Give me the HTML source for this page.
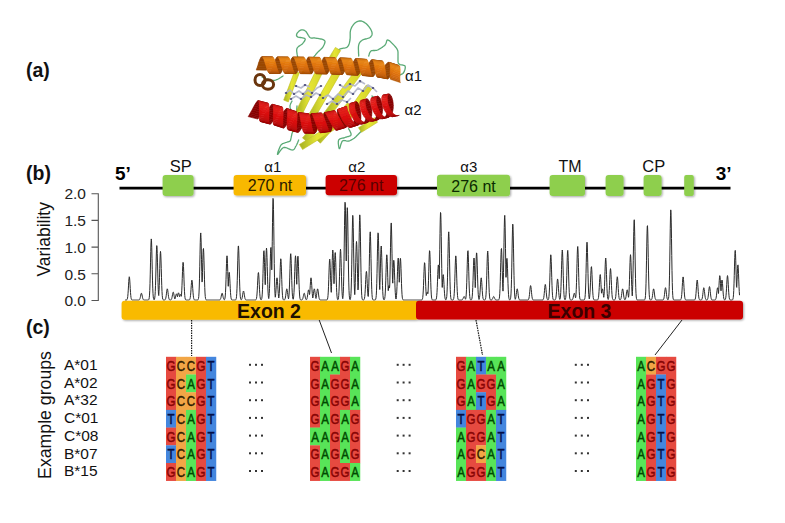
<!DOCTYPE html>
<html><head><meta charset="utf-8">
<style>
html,body{margin:0;padding:0;background:#fff;width:785px;height:523px;overflow:hidden}
svg{display:block}
text{font-family:"Liberation Sans",sans-serif}
.lab{font-weight:bold;font-size:19.5px;fill:#111}
.nt{font-size:13.4px;text-anchor:middle}
.tick{font-size:15.5px;fill:#222;text-anchor:end}
.gl{font-size:15.5px;fill:#111}
</style></head>
<body>
<svg width="785" height="523" viewBox="0 0 785 523">
<defs>
<filter id="sh" x="-20%" y="-30%" width="140%" height="170%">
<feGaussianBlur in="SourceAlpha" stdDeviation="1.2"/>
<feOffset dx="0.5" dy="1.2" result="b"/>
<feComponentTransfer><feFuncA type="linear" slope="0.35"/></feComponentTransfer>
<feMerge><feMergeNode/><feMergeNode in="SourceGraphic"/></feMerge>
</filter>
</defs>
<rect width="785" height="523" fill="#fff"/>

<!-- labels -->
<text class="lab" x="26" y="77">(a)</text>
<text class="lab" x="26" y="180">(b)</text>
<text class="lab" x="26" y="334">(c)</text>

<!-- protein -->
<defs><filter id="pb" x="-5%" y="-5%" width="110%" height="110%"><feGaussianBlur stdDeviation="0.45"/></filter></defs><g id="protein" filter="url(#pb)">
<path d="M298.0,59.0 L297.9,58.2 L297.6,57.0 L297.4,55.7 L297.1,54.2 L296.9,52.6 L296.7,51.1 L296.7,49.8 L296.9,48.7 L297.3,47.8 L297.9,47.1 L298.6,46.4 L299.5,45.9 L300.3,45.3 L301.2,44.8 L301.9,44.3 L302.5,43.7 L303.0,43.1 L303.6,42.4 L304.1,41.7 L304.6,41.0 L304.9,40.3 L305.2,39.7 L305.2,39.2 L305.0,38.7 L304.5,38.3 L303.7,38.1 L302.6,37.9 L301.4,37.7 L300.2,37.5 L299.1,37.4 L298.2,37.2 L297.5,36.9 L297.1,36.6 L296.8,36.2 L296.6,35.8 L296.5,35.4 L296.5,35.0 L296.6,34.6 L296.7,34.1 L296.9,33.7 L297.2,33.2 L297.6,32.7 L298.1,32.1 L298.6,31.6 L299.2,31.1 L299.8,30.6 L300.4,30.2 L301.0,30.0 L301.6,29.9 L302.1,29.8 L302.7,29.9 L303.3,30.0 L303.9,30.2 L304.5,30.4 L305.0,30.8 L305.6,31.2 L306.2,31.8 L306.7,32.6 L307.2,33.4 L307.8,34.4 L308.3,35.3 L308.9,36.2 L309.4,37.0 L310.0,37.5 L310.6,37.8 L311.1,38.0 L311.7,38.1 L312.3,38.1 L312.9,38.0 L313.6,37.9 L314.3,37.9 L315.0,38.0 L315.9,38.1 L316.8,38.3 L317.8,38.4 L318.9,38.6 L319.9,38.8 L320.9,39.0 L321.8,39.2 L322.5,39.4 L323.1,39.6 L323.6,39.9 L324.0,40.1 L324.4,40.4 L324.6,40.7 L324.8,41.0 L325.0,41.4 L325.0,41.9 L324.9,42.5 L324.8,43.1 L324.5,43.8 L324.2,44.5 L323.8,45.3 L323.4,46.1 L323.0,46.8 L322.5,47.5 L322.0,48.2 L321.4,48.8 L320.8,49.4 L320.1,50.1 L319.4,50.7 L318.7,51.3 L318.1,51.9 L317.5,52.5 L316.9,53.1 L316.4,53.8 L315.8,54.4 L315.3,55.1 L314.8,55.7 L314.4,56.2 L314.0,56.7 L313.7,57.0" fill="none" stroke="#5aaa76" stroke-width="1.3" stroke-linecap="round" stroke-linejoin="round"/>
<path d="M337.0,50.5 L337.3,50.4 L337.7,50.2 L338.1,50.0 L338.6,49.7 L339.1,49.5 L339.7,49.2 L340.4,48.9 L341.0,48.7 L341.7,48.5 L342.5,48.3 L343.4,48.2 L344.3,48.1 L345.2,47.9 L346.1,47.6 L346.9,47.3 L347.5,46.8 L348.0,46.2 L348.5,45.5 L348.8,44.7 L349.1,43.9 L349.4,43.0 L349.6,42.0 L349.8,41.0 L350.0,40.0 L350.1,38.9 L350.2,37.7 L350.2,36.4 L350.2,35.0 L350.2,33.7 L350.2,32.4 L350.4,31.1 L350.6,30.0 L351.0,28.9 L351.4,27.9 L351.9,26.9 L352.5,26.0 L353.1,25.1 L353.7,24.3 L354.3,23.6 L355.0,23.0 L355.7,22.5 L356.4,22.0 L357.1,21.6 L357.9,21.3 L358.6,21.1 L359.4,21.0 L360.2,20.9 L361.0,21.0 L361.8,21.2 L362.6,21.5 L363.5,21.9 L364.3,22.4 L365.2,23.0 L366.0,23.6 L366.8,24.3 L367.5,25.0 L368.2,25.8 L368.9,26.7 L369.6,27.7 L370.3,28.7 L370.9,29.7 L371.4,30.7 L371.8,31.7 L372.0,32.5 L372.1,33.3 L372.1,34.0 L372.0,34.7 L371.8,35.3 L371.4,35.9 L371.0,36.5 L370.6,37.0 L370.0,37.5 L369.3,37.9 L368.4,38.2 L367.4,38.5 L366.4,38.8 L365.3,39.0 L364.2,39.3 L363.3,39.6 L362.5,40.0 L361.8,40.5 L361.2,40.9 L360.6,41.4 L360.1,42.0 L359.7,42.6 L359.3,43.3 L359.0,44.1 L358.7,45.0 L358.5,46.2 L358.4,47.6 L358.4,49.2 L358.5,50.8 L358.5,52.4 L358.6,53.9 L358.7,55.1 L358.7,56.0" fill="none" stroke="#5aaa76" stroke-width="1.3" stroke-linecap="round" stroke-linejoin="round"/>
<path d="M368.7,56.0 L368.8,55.6 L369.0,55.0 L369.2,54.3 L369.4,53.6 L369.7,52.8 L370.1,52.1 L370.5,51.5 L371.0,51.0 L371.6,50.7 L372.3,50.6 L373.1,50.5 L373.9,50.5 L374.8,50.5 L375.7,50.4 L376.6,50.3 L377.5,50.0 L378.4,49.6 L379.4,49.0 L380.5,48.4 L381.5,47.8 L382.5,47.1 L383.5,46.3 L384.3,45.7 L385.0,45.0 L385.5,44.3 L385.9,43.5 L386.2,42.7 L386.4,42.0 L386.6,41.2 L386.8,40.6 L387.1,40.2 L387.5,40.0 L388.0,40.0 L388.6,40.3 L389.2,40.6 L389.8,41.1 L390.5,41.7 L391.2,42.4 L391.9,43.1 L392.5,43.7 L393.2,44.4 L393.9,45.1 L394.6,45.9 L395.3,46.7 L396.0,47.5 L396.6,48.4 L397.1,49.2 L397.5,50.0 L397.8,50.8 L397.9,51.5 L398.0,52.2 L398.0,52.9 L398.0,53.6 L398.0,54.4 L398.0,55.2 L398.0,56.0 L398.0,56.9 L398.0,57.9 L398.0,59.0 L398.0,60.1 L398.0,61.1 L398.1,62.1 L398.3,63.0 L398.7,63.7 L399.3,64.2 L400.1,64.6 L401.0,64.8 L402.0,64.9 L402.9,65.1 L403.8,65.3 L404.5,65.5 L405.0,66.0 L405.2,66.6 L405.3,67.4 L405.2,68.3 L405.0,69.2 L404.7,70.2 L404.4,71.1 L404.0,71.9 L403.7,72.5 L403.3,73.0 L402.9,73.5 L402.3,73.8 L401.8,74.2 L401.2,74.4 L400.7,74.6 L400.3,74.8 L400.0,75.0" fill="none" stroke="#5aaa76" stroke-width="1.3" stroke-linecap="round" stroke-linejoin="round"/>
<path d="M295.0,127.5 L294.8,127.8 L294.5,128.3 L294.2,128.8 L293.8,129.4 L293.5,130.0 L293.1,130.7 L292.8,131.3 L292.5,132.0 L292.3,132.7 L292.0,133.5 L291.8,134.3 L291.7,135.1 L291.5,135.9 L291.3,136.7 L291.2,137.4 L291.0,138.0 L290.9,138.5 L290.8,139.0 L290.7,139.4 L290.7,139.8 L290.6,140.1 L290.4,140.4 L290.3,140.7 L290.0,141.0 L289.7,141.3 L289.2,141.5 L288.8,141.6 L288.2,141.8 L287.7,141.9 L287.1,142.1 L286.6,142.3 L286.0,142.5 L285.4,142.7 L284.8,142.9 L284.1,143.1 L283.5,143.3 L282.8,143.5 L282.2,143.9 L281.6,144.4 L281.0,145.0 L280.4,146.0 L279.8,147.2 L279.2,148.7 L278.6,150.3 L278.0,151.8 L277.7,153.0 L277.5,154.0 L277.5,154.4 L277.8,154.3 L278.3,153.6 L279.0,152.6 L279.8,151.4 L280.8,150.1 L281.7,148.9 L282.7,148.0 L283.7,147.5 L284.7,147.4 L285.8,147.6 L287.0,148.0 L288.3,148.6 L289.5,149.1 L290.6,149.6 L291.6,149.9 L292.5,150.0 L293.2,149.8 L293.8,149.5 L294.2,149.1 L294.6,148.5 L295.0,147.9 L295.3,147.3 L295.6,146.6 L296.0,146.0 L296.4,145.3 L296.8,144.5 L297.2,143.6 L297.6,142.8 L297.9,141.9 L298.2,141.1 L298.5,140.5 L298.7,140.0" fill="none" stroke="#5aaa76" stroke-width="1.3" stroke-linecap="round" stroke-linejoin="round"/>
<path d="M367.5,126.9 L367.1,127.1 L366.7,127.4 L366.1,127.6 L365.5,128.0 L364.8,128.4 L364.0,128.8 L363.3,129.4 L362.5,130.0 L361.7,130.8 L360.8,131.7 L359.8,132.7 L358.8,133.7 L357.8,134.8 L356.8,135.8 L355.9,136.7 L355.0,137.5 L354.2,138.2 L353.3,138.7 L352.5,139.3 L351.8,139.7 L351.0,140.1 L350.2,140.5 L349.5,140.8 L348.7,141.0 L347.9,141.1 L347.1,141.1 L346.2,140.9 L345.4,140.7 L344.6,140.6 L343.8,140.5 L343.1,140.7 L342.5,141.0 L341.9,141.7 L341.5,142.8 L341.0,144.0 L340.6,145.4 L340.3,146.7 L339.9,147.7 L339.7,148.5 L339.4,148.7 L339.1,148.4 L338.9,147.5 L338.7,146.4 L338.5,145.0 L338.3,143.5 L338.3,142.1 L338.4,140.9 L338.7,140.0 L339.2,139.4 L339.8,138.9 L340.6,138.6 L341.4,138.4 L342.4,138.2 L343.3,138.0 L344.2,137.8 L345.0,137.5 L345.8,137.2 L346.7,137.0 L347.6,136.7 L348.5,136.5 L349.4,136.2 L350.1,135.9 L350.6,135.5 L351.0,135.0 L351.1,134.4 L351.0,133.5 L350.6,132.6 L350.2,131.7 L349.8,130.8 L349.3,129.9 L348.9,129.2 L348.7,128.7" fill="none" stroke="#5aaa76" stroke-width="1.3" stroke-linecap="round" stroke-linejoin="round"/>
<path d="M262.0,77.0 L262.5,77.2 L263.1,77.5 L263.9,77.8 L264.7,78.1 L265.6,78.5 L266.6,78.9 L267.5,79.2 L268.4,79.5 L269.2,79.8 L270.0,80.0 L270.7,80.1 L271.3,80.3 L271.9,80.3 L272.5,80.4 L273.1,80.4 L273.6,80.4 L274.2,80.4 L274.8,80.3 L275.4,80.2 L276.0,80.0 L276.7,79.7 L277.4,79.4 L278.2,79.0 L279.1,78.5 L279.9,78.0 L280.7,77.5 L281.4,77.0 L282.0,76.6 L282.6,76.3 L283.0,76.0" fill="none" stroke="#5aaa76" stroke-width="1.3" stroke-linecap="round" stroke-linejoin="round"/>
<path d="M292.0,101.0 L291.9,101.3 L291.7,101.7 L291.4,102.1 L291.2,102.6 L290.9,103.1 L290.6,103.7 L290.4,104.3 L290.2,104.9 L290.0,105.4 L290.0,106.0 L290.0,106.6 L290.1,107.2 L290.2,107.9 L290.4,108.6 L290.6,109.3 L290.9,110.0 L291.1,110.6 L291.4,111.2 L291.7,111.6 L292.0,112.0 L292.3,112.3 L292.7,112.5 L293.1,112.6 L293.6,112.7 L294.1,112.8 L294.5,112.7 L295.0,112.6 L295.4,112.5 L295.7,112.3 L296.0,112.0 L296.2,111.6 L296.4,111.1 L296.6,110.5 L296.7,109.7 L296.8,109.0 L296.8,108.3 L296.9,107.5 L296.9,106.9 L297.0,106.4 L297.0,106.0" fill="none" stroke="#5aaa76" stroke-width="1.3" stroke-linecap="round" stroke-linejoin="round"/>
<path d="M372.0,96.0 L372.2,96.2 L372.5,96.4 L372.8,96.7 L373.2,97.0 L373.6,97.3 L374.1,97.6 L374.5,98.0 L374.9,98.4 L375.3,98.8 L375.6,99.2 L375.8,99.6 L376.0,100.0 L376.1,100.4 L376.1,101.0 L376.1,101.5 L376.0,102.1 L375.9,102.7 L375.8,103.2 L375.6,103.8 L375.4,104.4 L375.3,104.9 L375.2,105.3 L375.1,105.7 L375.0,106.0" fill="none" stroke="#5aaa76" stroke-width="1.3" stroke-linecap="round" stroke-linejoin="round"/>
<defs><linearGradient id="yg" x1="0" y1="0" x2="1" y2="0"><stop offset="0" stop-color="#a4b024"/><stop offset="0.5" stop-color="#e6e634"/><stop offset="1" stop-color="#d4d42a"/></linearGradient></defs>
<polygon points="340.6,50.6 335.4,47.4 327.4,60.4 332.6,63.6" fill="url(#yg)" stroke="#c0bc20" stroke-width="0.6"/>
<polygon points="299.3,72.9 294.7,71.1 283.7,100.1 288.3,101.9" fill="url(#yg)" stroke="#c0bc20" stroke-width="0.6"/>
<polygon points="322.1,73.5 315.9,70.5 295.9,111.5 302.1,114.5" fill="url(#yg)" stroke="#c0bc20" stroke-width="0.6"/>
<polygon points="342.0,70.7 336.0,67.3 306.0,119.3 312.0,122.7" fill="url(#yg)" stroke="#c0bc20" stroke-width="0.6"/>
<polygon points="362.8,72.1 357.2,67.9 323.2,113.9 328.8,118.1" fill="url(#yg)" stroke="#c0bc20" stroke-width="0.6"/>
<polygon points="371.7,88.9 366.3,85.1 340.3,122.1 345.7,125.9" fill="url(#yg)" stroke="#c0bc20" stroke-width="0.6"/>
<polygon points="303.3,112.0 298.7,110.0 289.7,130.0 294.3,132.0" fill="url(#yg)" stroke="#c0bc20" stroke-width="0.6"/>
<polygon points="327.5,118.1 322.5,113.9 302.5,137.9 307.5,142.1" fill="url(#yg)" stroke="#c0bc20" stroke-width="0.6"/>
<polygon points="352.4,107.2 347.6,102.8 315.6,138.8 320.4,143.2" fill="url(#yg)" stroke="#c0bc20" stroke-width="0.6"/>
<polygon points="334.6,129.5 331.4,124.5 299.4,144.5 302.6,149.5" fill="url(#yg)" stroke="#c0bc20" stroke-width="0.6"/>
<polygon points="377.5,122.3 374.5,117.7 358.5,127.7 361.5,132.3" fill="url(#yg)" stroke="#c0bc20" stroke-width="0.6"/>
<path d="M286,93 L290,90 L294,94 L299,91 L303,94 L308,90 L312,93 L317,88 L321,86" fill="none" stroke="#b0b4c8" stroke-width="1.7" stroke-linejoin="round" opacity="0.9"/>
<path d="M291,99 L296,96 L301,99 L306,95 L311,97 L316,93 L320,95" fill="none" stroke="#b0b4c8" stroke-width="1.7" stroke-linejoin="round" opacity="0.9"/>
<path d="M296,86 L301,88 L305,85 L310,87" fill="none" stroke="#b0b4c8" stroke-width="1.7" stroke-linejoin="round" opacity="0.9"/>
<path d="M323,98 L328,95 L333,99 L338,94 L343,97 L348,91 L353,94 L358,88 L363,91 L368,85 L373,88 L377,92" fill="none" stroke="#b0b4c8" stroke-width="1.7" stroke-linejoin="round" opacity="0.9"/>
<path d="M327,104 L332,101 L337,104 L342,100 L347,102 L351,98" fill="none" stroke="#b0b4c8" stroke-width="1.7" stroke-linejoin="round" opacity="0.9"/>
<path d="M340,85 L345,88 L350,84 L355,86 L360,81 L365,84" fill="none" stroke="#b0b4c8" stroke-width="1.7" stroke-linejoin="round" opacity="0.9"/>
<rect x="284.9" y="92.1" width="2.2" height="1.8" fill="#3c3e70" opacity="0.85"/>
<rect x="292.9" y="93.1" width="2.2" height="1.8" fill="#3c3e70" opacity="0.85"/>
<rect x="301.9" y="93.1" width="2.2" height="1.8" fill="#3c3e70" opacity="0.85"/>
<rect x="310.9" y="92.1" width="2.2" height="1.8" fill="#3c3e70" opacity="0.85"/>
<rect x="319.9" y="85.1" width="2.2" height="1.8" fill="#3c3e70" opacity="0.85"/>
<rect x="289.9" y="98.1" width="2.2" height="1.8" fill="#3c3e70" opacity="0.85"/>
<rect x="299.9" y="98.1" width="2.2" height="1.8" fill="#3c3e70" opacity="0.85"/>
<rect x="309.9" y="96.1" width="2.2" height="1.8" fill="#3c3e70" opacity="0.85"/>
<rect x="318.9" y="94.1" width="2.2" height="1.8" fill="#3c3e70" opacity="0.85"/>
<rect x="294.9" y="85.1" width="2.2" height="1.8" fill="#3c3e70" opacity="0.85"/>
<rect x="303.9" y="84.1" width="2.2" height="1.8" fill="#3c3e70" opacity="0.85"/>
<rect x="321.9" y="97.1" width="2.2" height="1.8" fill="#3c3e70" opacity="0.85"/>
<rect x="331.9" y="98.1" width="2.2" height="1.8" fill="#3c3e70" opacity="0.85"/>
<rect x="341.9" y="96.1" width="2.2" height="1.8" fill="#3c3e70" opacity="0.85"/>
<rect x="351.9" y="93.1" width="2.2" height="1.8" fill="#3c3e70" opacity="0.85"/>
<rect x="361.9" y="90.1" width="2.2" height="1.8" fill="#3c3e70" opacity="0.85"/>
<rect x="371.9" y="87.1" width="2.2" height="1.8" fill="#3c3e70" opacity="0.85"/>
<rect x="325.9" y="103.1" width="2.2" height="1.8" fill="#3c3e70" opacity="0.85"/>
<rect x="335.9" y="103.1" width="2.2" height="1.8" fill="#3c3e70" opacity="0.85"/>
<rect x="345.9" y="101.1" width="2.2" height="1.8" fill="#3c3e70" opacity="0.85"/>
<rect x="338.9" y="84.1" width="2.2" height="1.8" fill="#3c3e70" opacity="0.85"/>
<rect x="348.9" y="83.1" width="2.2" height="1.8" fill="#3c3e70" opacity="0.85"/>
<rect x="358.9" y="80.1" width="2.2" height="1.8" fill="#3c3e70" opacity="0.85"/>
<ellipse cx="260" cy="80" rx="5.0" ry="5.6" fill="none" stroke="#6a360c" stroke-width="3.0"/>
<ellipse cx="268" cy="84.5" rx="5.6" ry="4.8" fill="none" stroke="#6a360c" stroke-width="3.0"/>
<polygon points="257.4,66.8 267.8,66.9 268.4,65.1 258.0,64.9" fill="#994607" stroke="#994607" stroke-width="0.6"/>
<polygon points="273.0,66.9 283.4,67.0 284.0,65.2 273.6,65.1" fill="#994607" stroke="#994607" stroke-width="0.6"/>
<polygon points="288.6,67.1 299.0,67.2 299.6,65.4 289.2,65.3" fill="#994607" stroke="#994607" stroke-width="0.6"/>
<polygon points="304.2,67.2 314.6,67.3 315.2,65.5 304.8,65.4" fill="#994607" stroke="#994607" stroke-width="0.6"/>
<polygon points="319.8,67.4 330.2,67.6 330.8,65.8 320.4,65.6" fill="#994607" stroke="#994607" stroke-width="0.6"/>
<polygon points="335.3,67.8 345.7,68.2 346.4,66.4 336.0,66.0" fill="#994607" stroke="#994607" stroke-width="0.6"/>
<polygon points="350.9,68.4 361.3,69.0 361.9,67.2 351.6,66.6" fill="#994607" stroke="#994607" stroke-width="0.6"/>
<polygon points="366.4,69.4 376.7,70.4 377.5,68.6 367.1,67.6" fill="#994607" stroke="#994607" stroke-width="0.6"/>
<polygon points="381.7,71.0 391.8,73.5 392.7,71.9 382.7,69.3" fill="#994607" stroke="#994607" stroke-width="0.6"/>
<polygon points="382.7,69.3 392.7,71.9 393.7,70.3 383.7,67.6" fill="#994607" stroke="#994607" stroke-width="0.6"/>
<polygon points="367.1,67.6 377.5,68.6 378.2,66.9 367.9,65.8" fill="#994607" stroke="#994607" stroke-width="0.6"/>
<polygon points="351.6,66.6 361.9,67.2 362.6,65.5 352.2,64.8" fill="#994607" stroke="#994607" stroke-width="0.6"/>
<polygon points="336.0,66.0 346.4,66.4 347.0,64.6 336.6,64.2" fill="#994607" stroke="#994607" stroke-width="0.6"/>
<polygon points="320.4,65.6 330.8,65.8 331.4,64.0 321.0,63.7" fill="#994607" stroke="#994607" stroke-width="0.6"/>
<polygon points="304.8,65.4 315.2,65.5 315.7,63.7 305.3,63.6" fill="#994607" stroke="#994607" stroke-width="0.6"/>
<polygon points="258.0,64.9 268.4,65.1 268.9,63.2 258.5,63.1" fill="#994607" stroke="#994607" stroke-width="0.6"/>
<polygon points="289.2,65.3 299.6,65.4 300.1,63.5 289.7,63.5" fill="#994607" stroke="#994607" stroke-width="0.6"/>
<polygon points="273.6,65.1 284.0,65.2 284.5,63.4 274.1,63.3" fill="#994607" stroke="#994607" stroke-width="0.6"/>
<polygon points="256.8,68.5 267.2,68.6 267.8,66.9 257.4,66.8" fill="#994607" stroke="#994607" stroke-width="0.6"/>
<polygon points="272.4,68.6 282.8,68.8 283.4,67.0 273.0,66.9" fill="#994607" stroke="#994607" stroke-width="0.6"/>
<polygon points="288.0,68.8 298.4,68.9 299.0,67.2 288.6,67.1" fill="#994607" stroke="#994607" stroke-width="0.6"/>
<polygon points="303.6,69.0 314.0,69.0 314.6,67.3 304.2,67.2" fill="#994607" stroke="#994607" stroke-width="0.6"/>
<polygon points="319.2,69.1 329.6,69.3 330.2,67.6 319.8,67.4" fill="#994607" stroke="#994607" stroke-width="0.6"/>
<polygon points="334.7,69.5 345.1,69.9 345.7,68.2 335.3,67.8" fill="#994607" stroke="#994607" stroke-width="0.6"/>
<polygon points="350.2,70.1 360.6,70.7 361.3,69.0 350.9,68.4" fill="#994607" stroke="#994607" stroke-width="0.6"/>
<polygon points="365.7,71.1 376.0,72.1 376.7,70.4 366.4,69.4" fill="#994607" stroke="#994607" stroke-width="0.6"/>
<polygon points="380.7,72.6 390.9,75.0 391.8,73.5 381.7,71.0" fill="#994607" stroke="#994607" stroke-width="0.6"/>
<polygon points="383.7,67.6 393.7,70.3 394.7,68.9 384.7,66.1" fill="#994607" stroke="#994607" stroke-width="0.6"/>
<polygon points="367.9,65.8 378.2,66.9 379.0,65.3 368.6,64.1" fill="#994607" stroke="#994607" stroke-width="0.6"/>
<polygon points="352.2,64.8 362.6,65.5 363.3,63.8 352.9,63.1" fill="#994607" stroke="#994607" stroke-width="0.6"/>
<polygon points="336.6,64.2 347.0,64.6 347.6,62.9 337.2,62.4" fill="#994607" stroke="#994607" stroke-width="0.6"/>
<polygon points="321.0,63.7 331.4,64.0 332.0,62.3 321.6,62.0" fill="#994607" stroke="#994607" stroke-width="0.6"/>
<polygon points="305.3,63.6 315.7,63.7 316.3,61.9 305.9,61.9" fill="#994607" stroke="#994607" stroke-width="0.6"/>
<polygon points="258.5,63.1 268.9,63.2 269.5,61.5 259.1,61.4" fill="#994607" stroke="#994607" stroke-width="0.6"/>
<polygon points="289.7,63.5 300.1,63.5 300.7,61.8 290.3,61.7" fill="#994607" stroke="#994607" stroke-width="0.6"/>
<polygon points="274.1,63.3 284.5,63.4 285.1,61.7 274.7,61.6" fill="#994607" stroke="#994607" stroke-width="0.6"/>
<polygon points="256.2,70.0 266.6,70.2 267.2,68.6 256.8,68.5" fill="#974407" stroke="#974407" stroke-width="0.6"/>
<polygon points="271.8,70.2 282.2,70.3 282.8,68.8 272.4,68.6" fill="#974407" stroke="#974407" stroke-width="0.6"/>
<polygon points="287.5,70.4 297.8,70.5 298.4,68.9 288.0,68.8" fill="#974407" stroke="#974407" stroke-width="0.6"/>
<polygon points="303.1,70.5 313.5,70.6 314.0,69.0 303.6,69.0" fill="#974407" stroke="#974407" stroke-width="0.6"/>
<polygon points="318.6,70.6 329.0,70.9 329.6,69.3 319.2,69.1" fill="#974407" stroke="#974407" stroke-width="0.6"/>
<polygon points="334.1,71.0 344.5,71.4 345.1,69.9 334.7,69.5" fill="#974407" stroke="#974407" stroke-width="0.6"/>
<polygon points="349.6,71.7 360.0,72.2 360.6,70.7 350.2,70.1" fill="#974407" stroke="#974407" stroke-width="0.6"/>
<polygon points="365.0,72.6 375.3,73.5 376.0,72.1 365.7,71.1" fill="#974407" stroke="#974407" stroke-width="0.6"/>
<polygon points="379.9,74.1 390.0,76.3 390.9,75.0 380.7,72.6" fill="#974407" stroke="#974407" stroke-width="0.6"/>
<polygon points="384.7,66.1 394.7,68.9 395.7,67.6 385.7,64.7" fill="#974407" stroke="#974407" stroke-width="0.6"/>
<polygon points="368.6,64.1 379.0,65.3 379.7,63.8 369.4,62.6" fill="#974407" stroke="#974407" stroke-width="0.6"/>
<polygon points="352.9,63.1 363.3,63.8 363.9,62.3 353.5,61.6" fill="#974407" stroke="#974407" stroke-width="0.6"/>
<polygon points="337.2,62.4 347.6,62.9 348.2,61.4 337.8,60.9" fill="#974407" stroke="#974407" stroke-width="0.6"/>
<polygon points="321.6,62.0 332.0,62.3 332.6,60.7 322.2,60.5" fill="#974407" stroke="#974407" stroke-width="0.6"/>
<polygon points="305.9,61.9 316.3,61.9 316.9,60.4 306.5,60.3" fill="#974407" stroke="#974407" stroke-width="0.6"/>
<polygon points="259.1,61.4 269.5,61.5 270.1,60.0 259.7,59.9" fill="#974407" stroke="#974407" stroke-width="0.6"/>
<polygon points="290.3,61.7 300.7,61.8 301.3,60.3 290.9,60.2" fill="#974407" stroke="#974407" stroke-width="0.6"/>
<polygon points="274.7,61.6 285.1,61.7 285.7,60.1 275.3,60.0" fill="#974407" stroke="#974407" stroke-width="0.6"/>
<polygon points="271.3,71.5 281.7,71.6 282.2,70.3 271.8,70.2" fill="#944307" stroke="#944307" stroke-width="0.6"/>
<polygon points="286.9,71.7 297.3,71.8 297.8,70.5 287.5,70.4" fill="#944307" stroke="#944307" stroke-width="0.6"/>
<polygon points="302.5,71.8 312.9,71.9 313.5,70.6 303.1,70.5" fill="#944307" stroke="#944307" stroke-width="0.6"/>
<polygon points="318.0,71.9 328.4,72.1 329.0,70.9 318.6,70.6" fill="#944307" stroke="#944307" stroke-width="0.6"/>
<polygon points="333.5,72.3 343.9,72.7 344.5,71.4 334.1,71.0" fill="#944307" stroke="#944307" stroke-width="0.6"/>
<polygon points="349.0,72.9 359.4,73.5 360.0,72.2 349.6,71.7" fill="#944307" stroke="#944307" stroke-width="0.6"/>
<polygon points="364.3,73.8 374.7,74.8 375.3,73.5 365.0,72.6" fill="#944307" stroke="#944307" stroke-width="0.6"/>
<polygon points="379.1,75.3 389.3,77.4 390.0,76.3 379.9,74.1" fill="#944307" stroke="#944307" stroke-width="0.6"/>
<polygon points="385.7,64.7 395.7,67.6 396.7,66.6 386.7,63.6" fill="#944306" stroke="#944306" stroke-width="0.6"/>
<polygon points="369.4,62.6 379.7,63.8 380.4,62.6 370.1,61.4" fill="#944306" stroke="#944306" stroke-width="0.6"/>
<polygon points="353.5,61.6 363.9,62.3 364.6,61.0 354.2,60.4" fill="#944306" stroke="#944306" stroke-width="0.6"/>
<polygon points="337.8,60.9 348.2,61.4 348.9,60.1 338.5,59.6" fill="#944306" stroke="#944306" stroke-width="0.6"/>
<polygon points="322.2,60.5 332.6,60.7 333.2,59.5 322.8,59.2" fill="#944306" stroke="#944306" stroke-width="0.6"/>
<polygon points="306.5,60.3 316.9,60.4 317.5,59.1 307.1,59.0" fill="#944306" stroke="#944306" stroke-width="0.6"/>
<polygon points="259.7,59.9 270.1,60.0 270.7,58.7 260.3,58.6" fill="#944306" stroke="#944306" stroke-width="0.6"/>
<polygon points="290.9,60.2 301.3,60.3 301.8,59.0 291.4,58.9" fill="#944306" stroke="#944306" stroke-width="0.6"/>
<polygon points="275.3,60.0 285.7,60.1 286.3,58.8 275.9,58.7" fill="#944306" stroke="#944306" stroke-width="0.6"/>
<polygon points="270.7,72.5 281.1,72.6 281.7,71.6 271.3,71.5" fill="#914106" stroke="#914106" stroke-width="0.6"/>
<polygon points="286.3,72.6 296.7,72.8 297.3,71.8 286.9,71.7" fill="#914106" stroke="#914106" stroke-width="0.6"/>
<polygon points="301.9,72.8 312.3,72.9 312.9,71.9 302.5,71.8" fill="#914106" stroke="#914106" stroke-width="0.6"/>
<polygon points="317.4,72.9 327.8,73.1 328.4,72.1 318.0,71.9" fill="#914106" stroke="#914106" stroke-width="0.6"/>
<polygon points="332.9,73.3 343.3,73.6 343.9,72.7 333.5,72.3" fill="#914106" stroke="#914106" stroke-width="0.6"/>
<polygon points="348.4,73.9 358.7,74.4 359.4,73.5 349.0,72.9" fill="#914106" stroke="#914106" stroke-width="0.6"/>
<polygon points="363.7,74.8 374.0,75.7 374.7,74.8 364.3,73.8" fill="#914106" stroke="#914106" stroke-width="0.6"/>
<polygon points="378.4,76.2 388.7,78.2 389.3,77.4 379.1,75.3" fill="#914106" stroke="#914106" stroke-width="0.6"/>
<polygon points="386.7,63.6 396.7,66.6 397.5,65.8 387.6,62.8" fill="#914106" stroke="#914106" stroke-width="0.6"/>
<polygon points="370.1,61.4 380.4,62.6 381.1,61.7 370.8,60.5" fill="#914106" stroke="#914106" stroke-width="0.6"/>
<polygon points="354.2,60.4 364.6,61.0 365.2,60.1 354.8,59.4" fill="#914106" stroke="#914106" stroke-width="0.6"/>
<polygon points="338.5,59.6 348.9,60.1 349.5,59.1 339.1,58.7" fill="#914106" stroke="#914106" stroke-width="0.6"/>
<polygon points="322.8,59.2 333.2,59.5 333.7,58.5 323.3,58.2" fill="#914106" stroke="#914106" stroke-width="0.6"/>
<polygon points="307.1,59.0 317.5,59.1 318.0,58.2 307.6,58.0" fill="#914106" stroke="#914106" stroke-width="0.6"/>
<polygon points="260.3,58.6 270.7,58.7 271.2,57.7 260.8,57.6" fill="#914106" stroke="#914106" stroke-width="0.6"/>
<polygon points="291.4,58.9 301.8,59.0 302.4,58.0 292.0,57.9" fill="#914106" stroke="#914106" stroke-width="0.6"/>
<polygon points="275.9,58.7 286.3,58.8 286.8,57.9 276.4,57.8" fill="#914106" stroke="#914106" stroke-width="0.6"/>
<polygon points="270.1,73.1 280.5,73.2 281.1,72.6 270.7,72.5" fill="#8d3f06" stroke="#8d3f06" stroke-width="0.6"/>
<polygon points="285.7,73.2 296.1,73.4 296.7,72.8 286.3,72.6" fill="#8d3f06" stroke="#8d3f06" stroke-width="0.6"/>
<polygon points="301.4,73.4 311.8,73.5 312.3,72.9 301.9,72.8" fill="#8d3f06" stroke="#8d3f06" stroke-width="0.6"/>
<polygon points="316.9,73.5 327.3,73.7 327.8,73.1 317.4,72.9" fill="#8d3f06" stroke="#8d3f06" stroke-width="0.6"/>
<polygon points="332.3,73.9 342.7,74.2 343.3,73.6 332.9,73.3" fill="#8d3f06" stroke="#8d3f06" stroke-width="0.6"/>
<polygon points="347.8,74.5 358.2,75.0 358.7,74.4 348.4,73.9" fill="#8d3f06" stroke="#8d3f06" stroke-width="0.6"/>
<polygon points="363.1,75.3 373.4,76.2 374.0,75.7 363.7,74.8" fill="#8d3f06" stroke="#8d3f06" stroke-width="0.6"/>
<polygon points="377.8,76.7 388.0,78.7 388.7,78.2 378.4,76.2" fill="#8d3f06" stroke="#8d3f06" stroke-width="0.6"/>
<polygon points="387.6,62.8 397.5,65.8 398.3,65.5 388.3,62.4" fill="#8d3f06" stroke="#8d3f06" stroke-width="0.6"/>
<polygon points="370.8,60.5 381.1,61.7 381.7,61.2 371.4,59.9" fill="#8d3f06" stroke="#8d3f06" stroke-width="0.6"/>
<polygon points="354.8,59.4 365.2,60.1 365.8,59.5 355.4,58.8" fill="#8d3f06" stroke="#8d3f06" stroke-width="0.6"/>
<polygon points="339.1,58.7 349.5,59.1 350.0,58.6 339.7,58.1" fill="#8d3f06" stroke="#8d3f06" stroke-width="0.6"/>
<polygon points="323.3,58.2 333.7,58.5 334.3,57.9 323.9,57.6" fill="#8d3f06" stroke="#8d3f06" stroke-width="0.6"/>
<polygon points="307.6,58.0 318.0,58.2 318.6,57.6 308.2,57.4" fill="#8d3f06" stroke="#8d3f06" stroke-width="0.6"/>
<polygon points="292.0,57.9 302.4,58.0 303.0,57.4 292.6,57.3" fill="#8d3f06" stroke="#8d3f06" stroke-width="0.6"/>
<polygon points="260.8,57.6 271.2,57.7 271.8,57.1 261.4,57.0" fill="#8d3f06" stroke="#8d3f06" stroke-width="0.6"/>
<polygon points="276.4,57.8 286.8,57.9 287.4,57.3 277.0,57.2" fill="#8d3f06" stroke="#8d3f06" stroke-width="0.6"/>
<polygon points="269.6,73.3 280.0,73.4 280.5,73.2 270.1,73.1" fill="#893c05" stroke="#893c05" stroke-width="0.6"/>
<polygon points="285.2,73.4 295.6,73.6 296.1,73.4 285.7,73.2" fill="#893c05" stroke="#893c05" stroke-width="0.6"/>
<polygon points="300.8,73.6 311.2,73.7 311.8,73.5 301.4,73.4" fill="#893c05" stroke="#893c05" stroke-width="0.6"/>
<polygon points="316.3,73.7 326.7,73.9 327.3,73.7 316.9,73.5" fill="#893c05" stroke="#893c05" stroke-width="0.6"/>
<polygon points="331.8,74.0 342.2,74.4 342.7,74.2 332.3,73.9" fill="#893c05" stroke="#893c05" stroke-width="0.6"/>
<polygon points="347.2,74.6 357.6,75.2 358.2,75.0 347.8,74.5" fill="#893c05" stroke="#893c05" stroke-width="0.6"/>
<polygon points="362.5,75.5 372.9,76.4 373.4,76.2 363.1,75.3" fill="#893c05" stroke="#893c05" stroke-width="0.6"/>
<polygon points="377.2,76.9 387.5,78.8 388.0,78.7 377.8,76.7" fill="#893c05" stroke="#893c05" stroke-width="0.6"/>
<polygon points="388.3,62.4 398.3,65.5 398.9,65.5 389.0,62.3" fill="#893c05" stroke="#893c05" stroke-width="0.6"/>
<polygon points="371.4,59.9 381.7,61.2 382.4,61.1 372.0,59.8" fill="#893c05" stroke="#893c05" stroke-width="0.6"/>
<polygon points="355.4,58.8 365.8,59.5 366.4,59.4 356.0,58.7" fill="#893c05" stroke="#893c05" stroke-width="0.6"/>
<polygon points="339.7,58.1 350.0,58.6 350.6,58.4 340.2,57.9" fill="#893c05" stroke="#893c05" stroke-width="0.6"/>
<polygon points="323.9,57.6 334.3,57.9 334.9,57.7 324.5,57.4" fill="#893c05" stroke="#893c05" stroke-width="0.6"/>
<polygon points="308.2,57.4 318.6,57.6 319.2,57.4 308.8,57.2" fill="#893c05" stroke="#893c05" stroke-width="0.6"/>
<polygon points="292.6,57.3 303.0,57.4 303.5,57.2 293.1,57.1" fill="#893c05" stroke="#893c05" stroke-width="0.6"/>
<polygon points="261.4,57.0 271.8,57.1 272.4,56.9 262.0,56.8" fill="#893c05" stroke="#893c05" stroke-width="0.6"/>
<polygon points="277.0,57.2 287.4,57.3 288.0,57.1 277.6,57.0" fill="#893c05" stroke="#893c05" stroke-width="0.6"/>
<polygon points="269.0,73.1 279.4,73.2 280.0,73.4 269.6,73.3" fill="#9b4806" stroke="#9b4806" stroke-width="0.6"/>
<polygon points="284.6,73.2 295.0,73.4 295.6,73.6 285.2,73.4" fill="#9b4806" stroke="#9b4806" stroke-width="0.6"/>
<polygon points="300.3,73.4 310.6,73.5 311.2,73.7 300.8,73.6" fill="#9b4806" stroke="#9b4806" stroke-width="0.6"/>
<polygon points="315.8,73.5 326.2,73.7 326.7,73.9 316.3,73.7" fill="#9b4806" stroke="#9b4806" stroke-width="0.6"/>
<polygon points="331.2,73.8 341.6,74.2 342.2,74.4 331.8,74.0" fill="#9b4806" stroke="#9b4806" stroke-width="0.6"/>
<polygon points="346.7,74.4 357.1,75.0 357.6,75.2 347.2,74.6" fill="#9b4806" stroke="#9b4806" stroke-width="0.6"/>
<polygon points="362.0,75.3 372.4,76.1 372.9,76.4 362.5,75.5" fill="#9b4806" stroke="#9b4806" stroke-width="0.6"/>
<polygon points="376.8,76.6 387.0,78.5 387.5,78.8 377.2,76.9" fill="#9b4806" stroke="#9b4806" stroke-width="0.6"/>
<polygon points="389.0,62.3 398.9,65.5 399.4,65.9 389.5,62.7" fill="#b1590a" stroke="#b1590a" stroke-width="0.6"/>
<polygon points="372.0,59.8 382.4,61.1 382.9,61.4 372.6,60.1" fill="#b1590a" stroke="#b1590a" stroke-width="0.6"/>
<polygon points="356.0,58.7 366.4,59.4 366.9,59.6 356.5,58.9" fill="#b1590a" stroke="#b1590a" stroke-width="0.6"/>
<polygon points="340.2,57.9 350.6,58.4 351.2,58.6 340.8,58.2" fill="#b1590a" stroke="#b1590a" stroke-width="0.6"/>
<polygon points="324.5,57.4 334.9,57.7 335.5,58.0 325.1,57.7" fill="#b1590a" stroke="#b1590a" stroke-width="0.6"/>
<polygon points="308.8,57.2 319.2,57.4 319.7,57.6 309.3,57.5" fill="#b1590a" stroke="#b1590a" stroke-width="0.6"/>
<polygon points="293.1,57.1 303.5,57.2 304.1,57.4 293.7,57.4" fill="#b1590a" stroke="#b1590a" stroke-width="0.6"/>
<polygon points="262.0,56.8 272.4,56.9 272.9,57.1 262.5,57.0" fill="#b1590a" stroke="#b1590a" stroke-width="0.6"/>
<polygon points="277.6,57.0 288.0,57.1 288.5,57.3 278.1,57.2" fill="#b1590a" stroke="#b1590a" stroke-width="0.6"/>
<polygon points="268.5,72.5 278.9,72.6 279.4,73.2 269.0,73.1" fill="#a74f07" stroke="#a74f07" stroke-width="0.6"/>
<polygon points="284.1,72.6 294.5,72.7 295.0,73.4 284.6,73.2" fill="#a74f07" stroke="#a74f07" stroke-width="0.6"/>
<polygon points="299.7,72.8 310.1,72.9 310.6,73.5 300.3,73.4" fill="#a74f07" stroke="#a74f07" stroke-width="0.6"/>
<polygon points="315.2,72.9 325.6,73.1 326.2,73.7 315.8,73.5" fill="#a74f07" stroke="#a74f07" stroke-width="0.6"/>
<polygon points="330.7,73.2 341.1,73.6 341.6,74.2 331.2,73.8" fill="#a74f07" stroke="#a74f07" stroke-width="0.6"/>
<polygon points="346.2,73.8 356.5,74.3 357.1,75.0 346.7,74.4" fill="#a74f07" stroke="#a74f07" stroke-width="0.6"/>
<polygon points="361.5,74.6 371.9,75.5 372.4,76.1 362.0,75.3" fill="#a74f07" stroke="#a74f07" stroke-width="0.6"/>
<polygon points="376.4,75.9 386.6,77.8 387.0,78.5 376.8,76.6" fill="#a74f07" stroke="#a74f07" stroke-width="0.6"/>
<polygon points="389.5,62.7 399.4,65.9 399.8,66.7 389.9,63.4" fill="#ca6e11" stroke="#ca6e11" stroke-width="0.6"/>
<polygon points="372.6,60.1 382.9,61.4 383.4,62.1 373.1,60.7" fill="#ca6e11" stroke="#ca6e11" stroke-width="0.6"/>
<polygon points="356.5,58.9 366.9,59.6 367.4,60.3 357.1,59.6" fill="#ca6e11" stroke="#ca6e11" stroke-width="0.6"/>
<polygon points="340.8,58.2 351.2,58.6 351.7,59.3 341.3,58.8" fill="#ca6e11" stroke="#ca6e11" stroke-width="0.6"/>
<polygon points="325.1,57.7 335.5,58.0 336.0,58.6 325.6,58.3" fill="#ca6e11" stroke="#ca6e11" stroke-width="0.6"/>
<polygon points="309.3,57.5 319.7,57.6 320.3,58.2 309.9,58.1" fill="#ca6e11" stroke="#ca6e11" stroke-width="0.6"/>
<polygon points="293.7,57.4 304.1,57.4 304.6,58.0 294.2,58.0" fill="#ca6e11" stroke="#ca6e11" stroke-width="0.6"/>
<polygon points="262.5,57.0 272.9,57.1 273.5,57.7 263.1,57.6" fill="#ca6e11" stroke="#ca6e11" stroke-width="0.6"/>
<polygon points="278.1,57.2 288.5,57.3 289.1,57.9 278.7,57.8" fill="#ca6e11" stroke="#ca6e11" stroke-width="0.6"/>
<polygon points="267.9,71.5 278.3,71.6 278.9,72.6 268.5,72.5" fill="#b45708" stroke="#b45708" stroke-width="0.6"/>
<polygon points="283.5,71.6 293.9,71.8 294.5,72.7 284.1,72.6" fill="#b45708" stroke="#b45708" stroke-width="0.6"/>
<polygon points="299.1,71.8 309.5,71.9 310.1,72.9 299.7,72.8" fill="#b45708" stroke="#b45708" stroke-width="0.6"/>
<polygon points="314.7,71.9 325.1,72.1 325.6,73.1 315.2,72.9" fill="#b45708" stroke="#b45708" stroke-width="0.6"/>
<polygon points="330.2,72.2 340.6,72.6 341.1,73.6 330.7,73.2" fill="#b45708" stroke="#b45708" stroke-width="0.6"/>
<polygon points="345.7,72.8 356.0,73.3 356.5,74.3 346.2,73.8" fill="#b45708" stroke="#b45708" stroke-width="0.6"/>
<polygon points="361.0,73.6 371.4,74.5 371.9,75.5 361.5,74.6" fill="#b45708" stroke="#b45708" stroke-width="0.6"/>
<polygon points="376.0,74.9 386.2,76.7 386.6,77.8 376.4,75.9" fill="#b45708" stroke="#b45708" stroke-width="0.6"/>
<polygon points="390.2,78.1 400.0,81.5 400.4,82.6 390.5,79.3" fill="#b45708" stroke="#b45708" stroke-width="0.6"/>
<polygon points="389.9,63.4 399.8,66.7 400.0,67.9 390.2,64.5" fill="#db7d16" stroke="#db7d16" stroke-width="0.6"/>
<polygon points="373.1,60.7 383.4,62.1 383.9,63.2 373.6,61.7" fill="#db7d16" stroke="#db7d16" stroke-width="0.6"/>
<polygon points="357.1,59.6 367.4,60.3 367.9,61.3 357.6,60.6" fill="#db7d16" stroke="#db7d16" stroke-width="0.6"/>
<polygon points="341.3,58.8 351.7,59.3 352.2,60.3 341.8,59.8" fill="#db7d16" stroke="#db7d16" stroke-width="0.6"/>
<polygon points="325.6,58.3 336.0,58.6 336.5,59.6 326.1,59.3" fill="#db7d16" stroke="#db7d16" stroke-width="0.6"/>
<polygon points="309.9,58.1 320.3,58.2 320.8,59.2 310.4,59.1" fill="#db7d16" stroke="#db7d16" stroke-width="0.6"/>
<polygon points="294.2,58.0 304.6,58.0 305.2,59.0 294.8,59.0" fill="#db7d16" stroke="#db7d16" stroke-width="0.6"/>
<polygon points="263.1,57.6 273.5,57.7 274.0,58.7 263.6,58.6" fill="#db7d16" stroke="#db7d16" stroke-width="0.6"/>
<polygon points="278.7,57.8 289.1,57.9 289.6,58.9 279.2,58.8" fill="#db7d16" stroke="#db7d16" stroke-width="0.6"/>
<polygon points="267.4,70.2 277.8,70.3 278.3,71.6 267.9,71.5" fill="#c26008" stroke="#c26008" stroke-width="0.6"/>
<polygon points="283.0,70.3 293.4,70.5 293.9,71.8 283.5,71.6" fill="#c26008" stroke="#c26008" stroke-width="0.6"/>
<polygon points="298.6,70.5 309.0,70.6 309.5,71.9 299.1,71.8" fill="#c26008" stroke="#c26008" stroke-width="0.6"/>
<polygon points="314.2,70.6 324.6,70.8 325.1,72.1 314.7,71.9" fill="#c26008" stroke="#c26008" stroke-width="0.6"/>
<polygon points="329.7,70.9 340.1,71.3 340.6,72.6 330.2,72.2" fill="#c26008" stroke="#c26008" stroke-width="0.6"/>
<polygon points="345.2,71.5 355.6,72.0 356.0,73.3 345.7,72.8" fill="#c26008" stroke="#c26008" stroke-width="0.6"/>
<polygon points="360.6,72.3 371.0,73.1 371.4,74.5 361.0,73.6" fill="#c26008" stroke="#c26008" stroke-width="0.6"/>
<polygon points="375.7,73.6 386.0,75.3 386.2,76.7 376.0,74.9" fill="#c26008" stroke="#c26008" stroke-width="0.6"/>
<polygon points="390.1,76.6 399.9,80.1 400.0,81.5 390.2,78.1" fill="#c26008" stroke="#c26008" stroke-width="0.6"/>
<polygon points="390.2,64.5 400.0,67.9 400.1,69.3 390.3,65.9" fill="#e58518" stroke="#e58518" stroke-width="0.6"/>
<polygon points="373.6,61.7 383.9,63.2 384.2,64.6 373.9,63.1" fill="#e58518" stroke="#e58518" stroke-width="0.6"/>
<polygon points="357.6,60.6 367.9,61.3 368.4,62.6 358.0,61.9" fill="#e58518" stroke="#e58518" stroke-width="0.6"/>
<polygon points="341.8,59.8 352.2,60.3 352.7,61.6 342.3,61.1" fill="#e58518" stroke="#e58518" stroke-width="0.6"/>
<polygon points="326.1,59.3 336.5,59.6 337.0,60.9 326.7,60.6" fill="#e58518" stroke="#e58518" stroke-width="0.6"/>
<polygon points="310.4,59.1 320.8,59.2 321.4,60.5 311.0,60.4" fill="#e58518" stroke="#e58518" stroke-width="0.6"/>
<polygon points="294.8,59.0 305.2,59.0 305.7,60.3 295.3,60.3" fill="#e58518" stroke="#e58518" stroke-width="0.6"/>
<polygon points="263.6,58.6 274.0,58.7 274.6,60.0 264.2,59.9" fill="#e58518" stroke="#e58518" stroke-width="0.6"/>
<polygon points="279.2,58.8 289.6,58.9 290.2,60.2 279.8,60.1" fill="#e58518" stroke="#e58518" stroke-width="0.6"/>
<polygon points="266.8,68.6 277.2,68.7 277.8,70.3 267.4,70.2" fill="#ce6709" stroke="#ce6709" stroke-width="0.6"/>
<polygon points="282.4,68.8 292.8,68.9 293.4,70.5 283.0,70.3" fill="#ce6709" stroke="#ce6709" stroke-width="0.6"/>
<polygon points="298.1,68.9 308.5,69.0 309.0,70.6 298.6,70.5" fill="#ce6709" stroke="#ce6709" stroke-width="0.6"/>
<polygon points="313.6,69.1 324.0,69.2 324.6,70.8 314.2,70.6" fill="#ce6709" stroke="#ce6709" stroke-width="0.6"/>
<polygon points="329.2,69.3 339.6,69.7 340.1,71.3 329.7,70.9" fill="#ce6709" stroke="#ce6709" stroke-width="0.6"/>
<polygon points="344.7,69.9 355.1,70.4 355.6,72.0 345.2,71.5" fill="#ce6709" stroke="#ce6709" stroke-width="0.6"/>
<polygon points="360.2,70.7 370.5,71.5 371.0,73.1 360.6,72.3" fill="#ce6709" stroke="#ce6709" stroke-width="0.6"/>
<polygon points="375.4,72.0 385.7,73.7 386.0,75.3 375.7,73.6" fill="#ce6709" stroke="#ce6709" stroke-width="0.6"/>
<polygon points="390.1,75.0 399.8,78.5 399.9,80.1 390.1,76.6" fill="#ce6709" stroke="#ce6709" stroke-width="0.6"/>
<polygon points="390.3,65.9 400.1,69.3 400.1,71.0 390.3,67.5" fill="#e98617" stroke="#e98617" stroke-width="0.6"/>
<polygon points="373.9,63.1 384.2,64.6 384.6,66.2 374.3,64.7" fill="#e98617" stroke="#e98617" stroke-width="0.6"/>
<polygon points="358.0,61.9 368.4,62.6 368.9,64.2 358.5,63.5" fill="#e98617" stroke="#e98617" stroke-width="0.6"/>
<polygon points="342.3,61.1 352.7,61.6 353.2,63.2 342.8,62.7" fill="#e98617" stroke="#e98617" stroke-width="0.6"/>
<polygon points="326.7,60.6 337.0,60.9 337.6,62.5 327.2,62.2" fill="#e98617" stroke="#e98617" stroke-width="0.6"/>
<polygon points="311.0,60.4 321.4,60.5 321.9,62.1 311.5,61.9" fill="#e98617" stroke="#e98617" stroke-width="0.6"/>
<polygon points="295.3,60.3 305.7,60.3 306.3,61.9 295.9,61.8" fill="#e98617" stroke="#e98617" stroke-width="0.6"/>
<polygon points="279.8,60.1 290.2,60.2 290.7,61.8 280.3,61.7" fill="#e98617" stroke="#e98617" stroke-width="0.6"/>
<polygon points="264.2,59.9 274.6,60.0 275.1,61.6 264.7,61.5" fill="#e98617" stroke="#e98617" stroke-width="0.6"/>
<polygon points="266.3,66.9 276.7,67.0 277.2,68.7 266.8,68.6" fill="#d56b09" stroke="#d56b09" stroke-width="0.6"/>
<polygon points="281.9,67.1 292.3,67.2 292.8,68.9 282.4,68.8" fill="#d56b09" stroke="#d56b09" stroke-width="0.6"/>
<polygon points="297.5,67.2 307.9,67.3 308.5,69.0 298.1,68.9" fill="#d56b09" stroke="#d56b09" stroke-width="0.6"/>
<polygon points="313.1,67.3 323.5,67.5 324.0,69.2 313.6,69.1" fill="#d56b09" stroke="#d56b09" stroke-width="0.6"/>
<polygon points="328.7,67.6 339.1,67.9 339.6,69.7 329.2,69.3" fill="#d56b09" stroke="#d56b09" stroke-width="0.6"/>
<polygon points="344.2,68.1 354.6,68.7 355.1,70.4 344.7,69.9" fill="#d56b09" stroke="#d56b09" stroke-width="0.6"/>
<polygon points="359.8,68.9 370.1,69.7 370.5,71.5 360.2,70.7" fill="#d56b09" stroke="#d56b09" stroke-width="0.6"/>
<polygon points="375.2,70.2 385.4,71.9 385.7,73.7 375.4,72.0" fill="#d56b09" stroke="#d56b09" stroke-width="0.6"/>
<polygon points="390.1,73.1 399.9,76.7 399.8,78.5 390.1,75.0" fill="#d56b09" stroke="#d56b09" stroke-width="0.6"/>
<polygon points="390.3,67.5 400.1,71.0 400.1,72.9 390.3,69.3" fill="#e67f13" stroke="#e67f13" stroke-width="0.6"/>
<polygon points="374.3,64.7 384.6,66.2 384.9,68.0 374.6,66.5" fill="#e67f13" stroke="#e67f13" stroke-width="0.6"/>
<polygon points="358.5,63.5 368.9,64.2 369.3,66.0 358.9,65.2" fill="#e67f13" stroke="#e67f13" stroke-width="0.6"/>
<polygon points="342.8,62.7 353.2,63.2 353.7,65.0 343.3,64.5" fill="#e67f13" stroke="#e67f13" stroke-width="0.6"/>
<polygon points="327.2,62.2 337.6,62.5 338.1,64.2 327.7,63.9" fill="#e67f13" stroke="#e67f13" stroke-width="0.6"/>
<polygon points="311.5,61.9 321.9,62.1 322.4,63.8 312.0,63.7" fill="#e67f13" stroke="#e67f13" stroke-width="0.6"/>
<polygon points="295.9,61.8 306.3,61.9 306.8,63.6 296.4,63.6" fill="#e67f13" stroke="#e67f13" stroke-width="0.6"/>
<polygon points="280.3,61.7 290.7,61.8 291.2,63.5 280.8,63.4" fill="#e67f13" stroke="#e67f13" stroke-width="0.6"/>
<polygon points="264.7,61.5 275.1,61.6 275.6,63.3 265.2,63.2" fill="#e67f13" stroke="#e67f13" stroke-width="0.6"/>
<polygon points="265.8,65.1 276.2,65.2 276.7,67.0 266.3,66.9" fill="#dc700a" stroke="#dc700a" stroke-width="0.6"/>
<polygon points="281.4,65.2 291.8,65.3 292.3,67.2 281.9,67.1" fill="#dc700a" stroke="#dc700a" stroke-width="0.6"/>
<polygon points="297.0,65.4 307.4,65.5 307.9,67.3 297.5,67.2" fill="#dc700a" stroke="#dc700a" stroke-width="0.6"/>
<polygon points="312.6,65.5 323.0,65.6 323.5,67.5 313.1,67.3" fill="#dc700a" stroke="#dc700a" stroke-width="0.6"/>
<polygon points="328.2,65.8 338.6,66.1 339.1,67.9 328.7,67.6" fill="#dc700a" stroke="#dc700a" stroke-width="0.6"/>
<polygon points="343.8,66.3 354.1,66.8 354.6,68.7 344.2,68.1" fill="#dc700a" stroke="#dc700a" stroke-width="0.6"/>
<polygon points="359.3,67.1 369.7,67.9 370.1,69.7 359.8,68.9" fill="#dc700a" stroke="#dc700a" stroke-width="0.6"/>
<polygon points="374.9,68.3 385.2,69.9 385.4,71.9 375.2,70.2" fill="#dc700a" stroke="#dc700a" stroke-width="0.6"/>
<polygon points="390.2,71.2 400.0,74.8 399.9,76.7 390.1,73.1" fill="#dc700a" stroke="#dc700a" stroke-width="0.6"/>
<polygon points="390.3,69.3 400.1,72.9 400.0,74.8 390.2,71.2" fill="#e2770d" stroke="#e2770d" stroke-width="0.6"/>
<polygon points="374.6,66.5 384.9,68.0 385.2,69.9 374.9,68.3" fill="#e2770d" stroke="#e2770d" stroke-width="0.6"/>
<polygon points="358.9,65.2 369.3,66.0 369.7,67.9 359.3,67.1" fill="#e2770d" stroke="#e2770d" stroke-width="0.6"/>
<polygon points="343.3,64.5 353.7,65.0 354.1,66.8 343.8,66.3" fill="#e2770d" stroke="#e2770d" stroke-width="0.6"/>
<polygon points="327.7,63.9 338.1,64.2 338.6,66.1 328.2,65.8" fill="#e2770d" stroke="#e2770d" stroke-width="0.6"/>
<polygon points="312.0,63.7 322.4,63.8 323.0,65.6 312.6,65.5" fill="#e2770d" stroke="#e2770d" stroke-width="0.6"/>
<polygon points="296.4,63.6 306.8,63.6 307.4,65.5 297.0,65.4" fill="#e2770d" stroke="#e2770d" stroke-width="0.6"/>
<polygon points="265.2,63.2 275.6,63.3 276.2,65.2 265.8,65.1" fill="#e2770d" stroke="#e2770d" stroke-width="0.6"/>
<polygon points="280.8,63.4 291.2,63.5 291.8,65.3 281.4,65.2" fill="#e2770d" stroke="#e2770d" stroke-width="0.6"/>
<polygon points="387.8,106.7 393.3,105.6 393.1,103.0 387.7,104.1" fill="#880303" stroke="#880303" stroke-width="0.6"/>
<polygon points="377.1,109.0 382.5,107.7 382.3,105.1 376.8,106.5" fill="#880303" stroke="#880303" stroke-width="0.6"/>
<polygon points="366.5,111.8 371.9,110.3 371.5,107.7 366.1,109.2" fill="#880303" stroke="#880303" stroke-width="0.6"/>
<polygon points="354.1,115.1 360.8,113.1 360.4,110.6 353.8,112.5" fill="#880303" stroke="#880303" stroke-width="0.6"/>
<polygon points="338.0,120.4 347.5,117.2 347.3,114.9 337.9,118.1" fill="#880303" stroke="#880303" stroke-width="0.6"/>
<polygon points="322.9,123.4 332.7,121.8 332.9,119.5 323.0,121.1" fill="#880303" stroke="#880303" stroke-width="0.6"/>
<polygon points="308.3,124.2 318.3,123.9 318.7,121.6 308.7,122.0" fill="#880303" stroke="#880303" stroke-width="0.6"/>
<polygon points="293.8,122.0 303.6,124.0 304.5,122.0 294.7,120.0" fill="#880303" stroke="#880303" stroke-width="0.6"/>
<polygon points="280.0,117.3 289.5,120.5 290.7,118.6 281.2,115.3" fill="#880303" stroke="#880303" stroke-width="0.6"/>
<polygon points="252.0,110.0 261.7,112.5 262.7,110.5 253.0,108.0" fill="#880303" stroke="#880303" stroke-width="0.6"/>
<polygon points="266.0,113.6 275.7,116.1 276.8,114.1 267.1,111.6" fill="#880303" stroke="#880303" stroke-width="0.6"/>
<polygon points="250.9,111.9 260.6,114.4 261.7,112.5 252.0,110.0" fill="#880303" stroke="#880303" stroke-width="0.6"/>
<polygon points="265.0,115.5 274.7,118.1 275.7,116.1 266.0,113.6" fill="#880303" stroke="#880303" stroke-width="0.6"/>
<polygon points="278.8,119.1 288.3,122.3 289.5,120.5 280.0,117.3" fill="#880303" stroke="#880303" stroke-width="0.6"/>
<polygon points="292.9,124.0 302.6,126.1 303.6,124.0 293.8,122.0" fill="#880303" stroke="#880303" stroke-width="0.6"/>
<polygon points="307.8,126.4 317.8,126.1 318.3,123.9 308.3,124.2" fill="#880303" stroke="#880303" stroke-width="0.6"/>
<polygon points="322.7,125.6 332.6,124.0 332.7,121.8 322.9,123.4" fill="#880303" stroke="#880303" stroke-width="0.6"/>
<polygon points="338.0,122.6 347.5,119.5 347.5,117.2 338.0,120.4" fill="#880303" stroke="#880303" stroke-width="0.6"/>
<polygon points="354.1,117.8 360.9,115.7 360.8,113.1 354.1,115.1" fill="#880303" stroke="#880303" stroke-width="0.6"/>
<polygon points="366.5,114.4 371.9,112.9 371.9,110.3 366.5,111.8" fill="#880303" stroke="#880303" stroke-width="0.6"/>
<polygon points="377.1,111.6 382.6,110.3 382.5,107.7 377.1,109.0" fill="#880303" stroke="#880303" stroke-width="0.6"/>
<polygon points="387.7,109.3 393.2,108.2 393.3,105.6 387.8,106.7" fill="#880303" stroke="#880303" stroke-width="0.6"/>
<polygon points="387.7,104.1 393.1,103.0 392.8,100.6 387.3,101.7" fill="#880303" stroke="#880303" stroke-width="0.6"/>
<polygon points="376.8,106.5 382.3,105.1 381.8,102.7 376.3,104.0" fill="#880303" stroke="#880303" stroke-width="0.6"/>
<polygon points="366.1,109.2 371.5,107.7 371.0,105.3 365.6,106.8" fill="#880303" stroke="#880303" stroke-width="0.6"/>
<polygon points="353.8,112.5 360.4,110.6 359.9,108.2 353.4,110.1" fill="#880303" stroke="#880303" stroke-width="0.6"/>
<polygon points="337.9,118.1 347.3,114.9 347.2,112.7 337.7,115.9" fill="#880303" stroke="#880303" stroke-width="0.6"/>
<polygon points="323.0,121.1 332.9,119.5 333.1,117.4 323.2,119.0" fill="#880303" stroke="#880303" stroke-width="0.6"/>
<polygon points="308.7,122.0 318.7,121.6 319.2,119.5 309.2,119.9" fill="#880303" stroke="#880303" stroke-width="0.6"/>
<polygon points="294.7,120.0 304.5,122.0 305.4,119.9 295.6,118.1" fill="#880303" stroke="#880303" stroke-width="0.6"/>
<polygon points="281.2,115.3 290.7,118.6 291.8,116.7 282.4,113.5" fill="#880303" stroke="#880303" stroke-width="0.6"/>
<polygon points="267.1,111.6 276.8,114.1 277.8,112.2 268.1,109.7" fill="#880303" stroke="#880303" stroke-width="0.6"/>
<polygon points="253.0,108.0 262.7,110.5 263.7,108.5 254.1,106.0" fill="#880303" stroke="#880303" stroke-width="0.6"/>
<polygon points="249.9,113.7 259.6,116.2 260.6,114.4 250.9,111.9" fill="#870303" stroke="#870303" stroke-width="0.6"/>
<polygon points="264.0,117.4 273.6,119.9 274.7,118.1 265.0,115.5" fill="#870303" stroke="#870303" stroke-width="0.6"/>
<polygon points="277.7,120.9 287.2,124.1 288.3,122.3 278.8,119.1" fill="#870303" stroke="#870303" stroke-width="0.6"/>
<polygon points="291.9,125.8 301.6,128.0 302.6,126.1 292.9,124.0" fill="#870303" stroke="#870303" stroke-width="0.6"/>
<polygon points="307.3,128.3 317.3,128.1 317.8,126.1 307.8,126.4" fill="#870303" stroke="#870303" stroke-width="0.6"/>
<polygon points="322.5,127.6 332.3,126.1 332.6,124.0 322.7,125.6" fill="#870303" stroke="#870303" stroke-width="0.6"/>
<polygon points="338.0,124.7 347.5,121.6 347.5,119.5 338.0,122.6" fill="#870303" stroke="#870303" stroke-width="0.6"/>
<polygon points="354.0,120.3 360.9,118.1 360.9,115.7 354.1,117.8" fill="#870303" stroke="#870303" stroke-width="0.6"/>
<polygon points="366.3,116.9 371.7,115.4 371.9,112.9 366.5,114.4" fill="#870303" stroke="#870303" stroke-width="0.6"/>
<polygon points="376.9,114.1 382.3,112.8 382.6,110.3 377.1,111.6" fill="#870303" stroke="#870303" stroke-width="0.6"/>
<polygon points="387.4,111.8 392.9,110.6 393.2,108.2 387.7,109.3" fill="#870303" stroke="#870303" stroke-width="0.6"/>
<polygon points="387.3,101.7 392.8,100.6 392.2,98.4 386.7,99.5" fill="#870303" stroke="#870303" stroke-width="0.6"/>
<polygon points="376.3,104.0 381.8,102.7 381.1,100.5 375.6,101.9" fill="#870303" stroke="#870303" stroke-width="0.6"/>
<polygon points="365.6,106.8 371.0,105.3 370.3,103.2 364.9,104.6" fill="#870303" stroke="#870303" stroke-width="0.6"/>
<polygon points="353.4,110.1 359.9,108.2 359.3,106.0 352.9,107.8" fill="#870303" stroke="#870303" stroke-width="0.6"/>
<polygon points="337.7,115.9 347.2,112.7 347.0,110.7 337.6,113.9" fill="#870303" stroke="#870303" stroke-width="0.6"/>
<polygon points="323.2,119.0 333.1,117.4 333.2,115.3 323.4,117.0" fill="#870303" stroke="#870303" stroke-width="0.6"/>
<polygon points="309.2,119.9 319.2,119.5 319.6,117.5 309.6,118.0" fill="#870303" stroke="#870303" stroke-width="0.6"/>
<polygon points="295.6,118.1 305.4,119.9 306.2,118.0 296.4,116.3" fill="#870303" stroke="#870303" stroke-width="0.6"/>
<polygon points="282.4,113.5 291.8,116.7 293.0,115.1 283.5,111.8" fill="#870303" stroke="#870303" stroke-width="0.6"/>
<polygon points="268.1,109.7 277.8,112.2 278.8,110.5 269.1,107.9" fill="#870303" stroke="#870303" stroke-width="0.6"/>
<polygon points="254.1,106.0 263.7,108.5 264.7,106.8 255.0,104.3" fill="#870303" stroke="#870303" stroke-width="0.6"/>
<polygon points="249.0,115.3 258.7,117.8 259.6,116.2 249.9,113.7" fill="#860303" stroke="#860303" stroke-width="0.6"/>
<polygon points="263.0,118.9 272.7,121.5 273.6,119.9 264.0,117.4" fill="#860303" stroke="#860303" stroke-width="0.6"/>
<polygon points="276.7,122.4 286.1,125.6 287.2,124.1 277.7,120.9" fill="#860303" stroke="#860303" stroke-width="0.6"/>
<polygon points="290.9,127.3 300.7,129.6 301.6,128.0 291.9,125.8" fill="#860303" stroke="#860303" stroke-width="0.6"/>
<polygon points="306.8,130.1 316.8,129.9 317.3,128.1 307.3,128.3" fill="#860303" stroke="#860303" stroke-width="0.6"/>
<polygon points="322.2,129.4 332.1,128.0 332.3,126.1 322.5,127.6" fill="#860303" stroke="#860303" stroke-width="0.6"/>
<polygon points="337.9,126.6 347.4,123.5 347.5,121.6 338.0,124.7" fill="#860303" stroke="#860303" stroke-width="0.6"/>
<polygon points="353.6,122.6 360.7,120.4 360.9,118.1 354.0,120.3" fill="#860303" stroke="#860303" stroke-width="0.6"/>
<polygon points="365.8,119.1 371.2,117.7 371.7,115.4 366.3,116.9" fill="#860303" stroke="#860303" stroke-width="0.6"/>
<polygon points="376.3,116.4 381.8,115.1 382.3,112.8 376.9,114.1" fill="#860303" stroke="#860303" stroke-width="0.6"/>
<polygon points="386.7,114.0 392.2,112.9 392.9,110.6 387.4,111.8" fill="#860303" stroke="#860303" stroke-width="0.6"/>
<polygon points="386.7,99.5 392.2,98.4 391.5,96.5 386.0,97.6" fill="#850303" stroke="#850303" stroke-width="0.6"/>
<polygon points="375.6,101.9 381.1,100.5 380.3,98.7 374.8,100.1" fill="#850303" stroke="#850303" stroke-width="0.6"/>
<polygon points="364.9,104.6 370.3,103.2 369.4,101.4 364.0,102.8" fill="#850303" stroke="#850303" stroke-width="0.6"/>
<polygon points="352.9,107.8 359.3,106.0 358.6,104.2 352.3,106.0" fill="#850303" stroke="#850303" stroke-width="0.6"/>
<polygon points="337.6,113.9 347.0,110.7 346.9,109.0 337.4,112.2" fill="#850303" stroke="#850303" stroke-width="0.6"/>
<polygon points="323.4,117.0 333.2,115.3 333.5,113.6 323.6,115.3" fill="#850303" stroke="#850303" stroke-width="0.6"/>
<polygon points="309.6,118.0 319.6,117.5 319.9,115.8 310.0,116.3" fill="#850303" stroke="#850303" stroke-width="0.6"/>
<polygon points="296.4,116.3 306.2,118.0 307.0,116.4 297.1,114.8" fill="#850303" stroke="#850303" stroke-width="0.6"/>
<polygon points="283.5,111.8 293.0,115.1 294.0,113.7 284.5,110.4" fill="#850303" stroke="#850303" stroke-width="0.6"/>
<polygon points="269.1,107.9 278.8,110.5 279.7,109.0 270.0,106.4" fill="#850303" stroke="#850303" stroke-width="0.6"/>
<polygon points="255.0,104.3 264.7,106.8 265.6,105.3 256.0,102.8" fill="#850303" stroke="#850303" stroke-width="0.6"/>
<polygon points="248.1,116.6 257.8,119.1 258.7,117.8 249.0,115.3" fill="#840202" stroke="#840202" stroke-width="0.6"/>
<polygon points="262.2,120.2 271.8,122.7 272.7,121.5 263.0,118.9" fill="#840202" stroke="#840202" stroke-width="0.6"/>
<polygon points="275.7,123.6 285.2,126.8 286.1,125.6 276.7,122.4" fill="#840202" stroke="#840202" stroke-width="0.6"/>
<polygon points="290.1,128.6 299.8,130.9 300.7,129.6 290.9,127.3" fill="#840202" stroke="#840202" stroke-width="0.6"/>
<polygon points="306.3,131.5 316.3,131.4 316.8,129.9 306.8,130.1" fill="#840202" stroke="#840202" stroke-width="0.6"/>
<polygon points="321.9,130.9 331.7,129.5 332.1,128.0 322.2,129.4" fill="#840202" stroke="#840202" stroke-width="0.6"/>
<polygon points="337.7,128.2 347.2,125.1 347.4,123.5 337.9,126.6" fill="#840202" stroke="#840202" stroke-width="0.6"/>
<polygon points="353.1,124.5 360.2,122.2 360.7,120.4 353.6,122.6" fill="#840202" stroke="#840202" stroke-width="0.6"/>
<polygon points="365.0,121.1 370.4,119.6 371.2,117.7 365.8,119.1" fill="#840202" stroke="#840202" stroke-width="0.6"/>
<polygon points="375.5,118.4 381.0,117.0 381.8,115.1 376.3,116.4" fill="#840202" stroke="#840202" stroke-width="0.6"/>
<polygon points="385.9,115.9 391.3,114.8 392.2,112.9 386.7,114.0" fill="#840202" stroke="#840202" stroke-width="0.6"/>
<polygon points="386.0,97.6 391.5,96.5 390.6,95.2 385.2,96.2" fill="#830202" stroke="#830202" stroke-width="0.6"/>
<polygon points="374.8,100.1 380.3,98.7 379.4,97.4 373.9,98.7" fill="#830202" stroke="#830202" stroke-width="0.6"/>
<polygon points="364.0,102.8 369.4,101.4 368.5,100.0 363.1,101.5" fill="#830202" stroke="#830202" stroke-width="0.6"/>
<polygon points="352.3,106.0 358.6,104.2 357.8,102.9 351.6,104.6" fill="#830202" stroke="#830202" stroke-width="0.6"/>
<polygon points="337.4,112.2 346.9,109.0 346.7,107.7 337.4,110.9" fill="#830202" stroke="#830202" stroke-width="0.6"/>
<polygon points="323.6,115.3 333.5,113.6 333.7,112.2 323.8,114.0" fill="#830202" stroke="#830202" stroke-width="0.6"/>
<polygon points="310.0,116.3 319.9,115.8 320.3,114.4 310.4,115.0" fill="#830202" stroke="#830202" stroke-width="0.6"/>
<polygon points="297.1,114.8 307.0,116.4 307.6,115.1 297.7,113.6" fill="#830202" stroke="#830202" stroke-width="0.6"/>
<polygon points="284.5,110.4 294.0,113.7 294.9,112.6 285.4,109.4" fill="#830202" stroke="#830202" stroke-width="0.6"/>
<polygon points="270.0,106.4 279.7,109.0 280.6,107.9 270.9,105.3" fill="#830202" stroke="#830202" stroke-width="0.6"/>
<polygon points="256.0,102.8 265.6,105.3 266.5,104.2 256.8,101.7" fill="#830202" stroke="#830202" stroke-width="0.6"/>
<polygon points="261.4,121.1 271.1,123.6 271.8,122.7 262.2,120.2" fill="#820202" stroke="#820202" stroke-width="0.6"/>
<polygon points="274.9,124.5 284.4,127.6 285.2,126.8 275.7,123.6" fill="#820202" stroke="#820202" stroke-width="0.6"/>
<polygon points="289.2,129.4 298.9,131.8 299.8,130.9 290.1,128.6" fill="#820202" stroke="#820202" stroke-width="0.6"/>
<polygon points="305.7,132.5 315.7,132.5 316.3,131.4 306.3,131.5" fill="#820202" stroke="#820202" stroke-width="0.6"/>
<polygon points="321.4,132.0 331.3,130.6 331.7,129.5 321.9,130.9" fill="#820202" stroke="#820202" stroke-width="0.6"/>
<polygon points="337.3,129.3 346.9,126.3 347.2,125.1 337.7,128.2" fill="#820202" stroke="#820202" stroke-width="0.6"/>
<polygon points="352.4,126.0 359.6,123.7 360.2,122.2 353.1,124.5" fill="#820202" stroke="#820202" stroke-width="0.6"/>
<polygon points="364.0,122.6 369.4,121.2 370.4,119.6 365.0,121.1" fill="#820202" stroke="#820202" stroke-width="0.6"/>
<polygon points="374.5,119.9 379.9,118.5 381.0,117.0 375.5,118.4" fill="#820202" stroke="#820202" stroke-width="0.6"/>
<polygon points="384.7,117.4 390.2,116.2 391.3,114.8 385.9,115.9" fill="#820202" stroke="#820202" stroke-width="0.6"/>
<polygon points="373.9,98.7 379.4,97.4 378.5,96.5 373.1,97.9" fill="#810202" stroke="#810202" stroke-width="0.6"/>
<polygon points="385.2,96.2 390.6,95.2 389.8,94.3 384.3,95.3" fill="#810202" stroke="#810202" stroke-width="0.6"/>
<polygon points="363.1,101.5 368.5,100.0 367.6,99.2 362.2,100.6" fill="#810202" stroke="#810202" stroke-width="0.6"/>
<polygon points="351.6,104.6 357.8,102.9 357.0,102.0 350.9,103.7" fill="#810202" stroke="#810202" stroke-width="0.6"/>
<polygon points="337.4,110.9 346.7,107.7 346.6,106.8 337.4,109.9" fill="#810202" stroke="#810202" stroke-width="0.6"/>
<polygon points="323.8,114.0 333.7,112.2 334.0,111.2 324.1,113.1" fill="#810202" stroke="#810202" stroke-width="0.6"/>
<polygon points="310.4,115.0 320.3,114.4 320.8,113.5 310.8,114.1" fill="#810202" stroke="#810202" stroke-width="0.6"/>
<polygon points="297.7,113.6 307.6,115.1 308.1,114.2 298.2,112.9" fill="#810202" stroke="#810202" stroke-width="0.6"/>
<polygon points="285.4,109.4 294.9,112.6 295.7,111.9 286.2,108.7" fill="#810202" stroke="#810202" stroke-width="0.6"/>
<polygon points="270.9,105.3 280.6,107.9 281.3,107.2 271.6,104.6" fill="#810202" stroke="#810202" stroke-width="0.6"/>
<polygon points="256.8,101.7 266.5,104.2 267.2,103.5 257.5,101.0" fill="#810202" stroke="#810202" stroke-width="0.6"/>
<polygon points="260.8,121.5 270.4,124.0 271.1,123.6 261.4,121.1" fill="#7f0101" stroke="#7f0101" stroke-width="0.6"/>
<polygon points="274.3,124.9 283.8,128.0 284.4,127.6 274.9,124.5" fill="#7f0101" stroke="#7f0101" stroke-width="0.6"/>
<polygon points="288.5,129.7 298.2,132.3 298.9,131.8 289.2,129.4" fill="#7f0101" stroke="#7f0101" stroke-width="0.6"/>
<polygon points="305.1,133.0 315.1,133.1 315.7,132.5 305.7,132.5" fill="#7f0101" stroke="#7f0101" stroke-width="0.6"/>
<polygon points="321.0,132.6 330.9,131.3 331.3,130.6 321.4,132.0" fill="#7f0101" stroke="#7f0101" stroke-width="0.6"/>
<polygon points="336.9,130.0 346.4,127.1 346.9,126.3 337.3,129.3" fill="#7f0101" stroke="#7f0101" stroke-width="0.6"/>
<polygon points="351.4,127.0 358.8,124.7 359.6,123.7 352.4,126.0" fill="#7f0101" stroke="#7f0101" stroke-width="0.6"/>
<polygon points="362.7,123.7 368.1,122.2 369.4,121.2 364.0,122.6" fill="#7f0101" stroke="#7f0101" stroke-width="0.6"/>
<polygon points="373.2,120.9 378.6,119.5 379.9,118.5 374.5,119.9" fill="#7f0101" stroke="#7f0101" stroke-width="0.6"/>
<polygon points="383.4,118.4 388.9,117.2 390.2,116.2 384.7,117.4" fill="#7f0101" stroke="#7f0101" stroke-width="0.6"/>
<polygon points="373.1,97.9 378.5,96.5 377.7,96.2 372.2,97.6" fill="#7e0101" stroke="#7e0101" stroke-width="0.6"/>
<polygon points="384.3,95.3 389.8,94.3 389.0,94.0 383.5,95.0" fill="#7e0101" stroke="#7e0101" stroke-width="0.6"/>
<polygon points="362.2,100.6 367.6,99.2 366.8,98.9 361.4,100.4" fill="#7e0101" stroke="#7e0101" stroke-width="0.6"/>
<polygon points="350.9,103.7 357.0,102.0 356.2,101.8 350.3,103.4" fill="#7e0101" stroke="#7e0101" stroke-width="0.6"/>
<polygon points="337.4,109.9 346.6,106.8 346.6,106.4 337.6,109.5" fill="#7e0101" stroke="#7e0101" stroke-width="0.6"/>
<polygon points="324.1,113.1 334.0,111.2 334.3,110.7 324.5,112.7" fill="#7e0101" stroke="#7e0101" stroke-width="0.6"/>
<polygon points="310.8,114.1 320.8,113.5 321.2,113.0 311.2,113.7" fill="#7e0101" stroke="#7e0101" stroke-width="0.6"/>
<polygon points="298.2,112.9 308.1,114.2 308.6,113.8 298.6,112.6" fill="#7e0101" stroke="#7e0101" stroke-width="0.6"/>
<polygon points="286.2,108.7 295.7,111.9 296.3,111.7 286.8,108.5" fill="#7e0101" stroke="#7e0101" stroke-width="0.6"/>
<polygon points="271.6,104.6 281.3,107.2 281.9,106.9 272.2,104.3" fill="#7e0101" stroke="#7e0101" stroke-width="0.6"/>
<polygon points="257.5,101.0 267.2,103.5 267.8,103.2 258.1,100.7" fill="#7e0101" stroke="#7e0101" stroke-width="0.6"/>
<polygon points="260.2,121.4 269.9,124.0 270.4,124.0 260.8,121.5" fill="#7c0101" stroke="#7c0101" stroke-width="0.6"/>
<polygon points="273.8,124.8 283.3,127.9 283.8,128.0 274.3,124.9" fill="#7c0101" stroke="#7c0101" stroke-width="0.6"/>
<polygon points="288.0,129.6 297.6,132.2 298.2,132.3 288.5,129.7" fill="#7c0101" stroke="#7c0101" stroke-width="0.6"/>
<polygon points="304.6,133.1 314.6,133.2 315.1,133.1 305.1,133.0" fill="#7c0101" stroke="#7c0101" stroke-width="0.6"/>
<polygon points="320.4,132.7 330.3,131.4 330.9,131.3 321.0,132.6" fill="#7c0101" stroke="#7c0101" stroke-width="0.6"/>
<polygon points="336.4,130.3 345.9,127.4 346.4,127.1 336.9,130.0" fill="#7c0101" stroke="#7c0101" stroke-width="0.6"/>
<polygon points="350.4,127.5 357.8,125.1 358.8,124.7 351.4,127.0" fill="#7c0101" stroke="#7c0101" stroke-width="0.6"/>
<polygon points="392.3,116.7 397.8,115.7 399.3,115.3 393.8,116.3" fill="#7c0101" stroke="#7c0101" stroke-width="0.6"/>
<polygon points="361.2,124.2 366.6,122.7 368.1,122.2 362.7,123.7" fill="#7c0101" stroke="#7c0101" stroke-width="0.6"/>
<polygon points="371.7,121.4 377.1,120.0 378.6,119.5 373.2,120.9" fill="#7c0101" stroke="#7c0101" stroke-width="0.6"/>
<polygon points="381.9,118.8 387.4,117.6 388.9,117.2 383.4,118.4" fill="#7c0101" stroke="#7c0101" stroke-width="0.6"/>
<polygon points="372.2,97.6 377.7,96.2 377.0,96.5 371.5,97.8" fill="#a00807" stroke="#a00807" stroke-width="0.6"/>
<polygon points="383.5,95.0 389.0,94.0 388.3,94.2 382.8,95.2" fill="#a00807" stroke="#a00807" stroke-width="0.6"/>
<polygon points="361.4,100.4 366.8,98.9 366.1,99.2 360.7,100.7" fill="#a00807" stroke="#a00807" stroke-width="0.6"/>
<polygon points="350.3,103.4 356.2,101.8 355.6,102.0 349.7,103.7" fill="#a00807" stroke="#a00807" stroke-width="0.6"/>
<polygon points="337.6,109.5 346.6,106.4 346.7,106.4 337.8,109.5" fill="#a00807" stroke="#a00807" stroke-width="0.6"/>
<polygon points="324.5,112.7 334.3,110.7 334.7,110.7 324.9,112.7" fill="#a00807" stroke="#a00807" stroke-width="0.6"/>
<polygon points="311.2,113.7 321.2,113.0 321.7,113.1 311.7,113.8" fill="#a00807" stroke="#a00807" stroke-width="0.6"/>
<polygon points="298.6,112.6 308.6,113.8 309.0,113.9 299.0,112.8" fill="#a00807" stroke="#a00807" stroke-width="0.6"/>
<polygon points="286.8,108.5 296.3,111.7 296.7,111.9 287.2,108.7" fill="#a00807" stroke="#a00807" stroke-width="0.6"/>
<polygon points="272.2,104.3 281.9,106.9 282.4,107.1 272.7,104.6" fill="#a00807" stroke="#a00807" stroke-width="0.6"/>
<polygon points="258.1,100.7 267.8,103.2 268.3,103.4 258.6,100.9" fill="#a00807" stroke="#a00807" stroke-width="0.6"/>
<polygon points="259.8,120.9 269.5,123.4 269.9,124.0 260.2,121.4" fill="#990505" stroke="#990505" stroke-width="0.6"/>
<polygon points="273.5,124.3 283.0,127.3 283.3,127.9 273.8,124.8" fill="#990505" stroke="#990505" stroke-width="0.6"/>
<polygon points="287.5,129.0 297.1,131.7 297.6,132.2 288.0,129.6" fill="#990505" stroke="#990505" stroke-width="0.6"/>
<polygon points="304.0,132.7 314.0,132.8 314.6,133.2 304.6,133.1" fill="#990505" stroke="#990505" stroke-width="0.6"/>
<polygon points="319.8,132.4 329.7,131.1 330.3,131.4 320.4,132.7" fill="#990505" stroke="#990505" stroke-width="0.6"/>
<polygon points="335.7,130.0 345.3,127.1 345.9,127.4 336.4,130.3" fill="#990505" stroke="#990505" stroke-width="0.6"/>
<polygon points="349.1,127.4 356.7,124.9 357.8,125.1 350.4,127.5" fill="#990505" stroke="#990505" stroke-width="0.6"/>
<polygon points="390.7,116.5 396.3,115.5 397.8,115.7 392.3,116.7" fill="#990505" stroke="#990505" stroke-width="0.6"/>
<polygon points="359.6,124.1 365.0,122.6 366.6,122.7 361.2,124.2" fill="#990505" stroke="#990505" stroke-width="0.6"/>
<polygon points="370.1,121.3 375.5,119.9 377.1,120.0 371.7,121.4" fill="#990505" stroke="#990505" stroke-width="0.6"/>
<polygon points="380.4,118.7 385.9,117.5 387.4,117.6 381.9,118.8" fill="#990505" stroke="#990505" stroke-width="0.6"/>
<polygon points="371.5,97.8 377.0,96.5 376.4,97.3 371.0,98.6" fill="#bc1311" stroke="#bc1311" stroke-width="0.6"/>
<polygon points="382.8,95.2 388.3,94.2 387.7,95.0 382.2,96.0" fill="#bc1311" stroke="#bc1311" stroke-width="0.6"/>
<polygon points="360.7,100.7 366.1,99.2 365.5,100.1 360.1,101.5" fill="#bc1311" stroke="#bc1311" stroke-width="0.6"/>
<polygon points="349.7,103.7 355.6,102.0 355.0,102.9 349.3,104.5" fill="#bc1311" stroke="#bc1311" stroke-width="0.6"/>
<polygon points="337.8,109.5 346.7,106.4 346.9,106.9 338.2,110.0" fill="#bc1311" stroke="#bc1311" stroke-width="0.6"/>
<polygon points="324.9,112.7 334.7,110.7 335.3,111.1 325.5,113.2" fill="#bc1311" stroke="#bc1311" stroke-width="0.6"/>
<polygon points="311.7,113.8 321.7,113.1 322.2,113.6 312.2,114.4" fill="#bc1311" stroke="#bc1311" stroke-width="0.6"/>
<polygon points="299.0,112.8 309.0,113.9 309.3,114.4 299.3,113.5" fill="#bc1311" stroke="#bc1311" stroke-width="0.6"/>
<polygon points="287.2,108.7 296.7,111.9 297.0,112.6 287.5,109.5" fill="#bc1311" stroke="#bc1311" stroke-width="0.6"/>
<polygon points="272.7,104.6 282.4,107.1 282.7,107.8 273.1,105.2" fill="#bc1311" stroke="#bc1311" stroke-width="0.6"/>
<polygon points="258.6,100.9 268.3,103.4 268.6,104.1 258.9,101.6" fill="#bc1311" stroke="#bc1311" stroke-width="0.6"/>
<polygon points="259.6,119.9 269.2,122.5 269.5,123.4 259.8,120.9" fill="#a50707" stroke="#a50707" stroke-width="0.6"/>
<polygon points="273.3,123.4 282.8,126.3 283.0,127.3 273.5,124.3" fill="#a50707" stroke="#a50707" stroke-width="0.6"/>
<polygon points="287.2,128.0 296.8,130.8 297.1,131.7 287.5,129.0" fill="#a50707" stroke="#a50707" stroke-width="0.6"/>
<polygon points="303.4,131.7 313.4,132.0 314.0,132.8 304.0,132.7" fill="#a50707" stroke="#a50707" stroke-width="0.6"/>
<polygon points="319.1,131.6 329.1,130.4 329.7,131.1 319.8,132.4" fill="#a50707" stroke="#a50707" stroke-width="0.6"/>
<polygon points="334.9,129.3 344.5,126.5 345.3,127.1 335.7,130.0" fill="#a50707" stroke="#a50707" stroke-width="0.6"/>
<polygon points="347.8,126.8 355.5,124.2 356.7,124.9 349.1,127.4" fill="#a50707" stroke="#a50707" stroke-width="0.6"/>
<polygon points="389.1,115.7 394.6,114.7 396.3,115.5 390.7,116.5" fill="#a50707" stroke="#a50707" stroke-width="0.6"/>
<polygon points="358.0,123.5 363.4,122.0 365.0,122.6 359.6,124.1" fill="#a50707" stroke="#a50707" stroke-width="0.6"/>
<polygon points="368.4,120.7 373.9,119.3 375.5,119.9 370.1,121.3" fill="#a50707" stroke="#a50707" stroke-width="0.6"/>
<polygon points="378.8,118.0 384.2,116.8 385.9,117.5 380.4,118.7" fill="#a50707" stroke="#a50707" stroke-width="0.6"/>
<polygon points="371.0,98.6 376.4,97.3 376.1,98.7 370.7,100.0" fill="#d01b18" stroke="#d01b18" stroke-width="0.6"/>
<polygon points="382.2,96.0 387.7,95.0 387.3,96.3 381.8,97.3" fill="#d01b18" stroke="#d01b18" stroke-width="0.6"/>
<polygon points="360.1,101.5 365.5,100.1 365.2,101.4 359.8,102.8" fill="#d01b18" stroke="#d01b18" stroke-width="0.6"/>
<polygon points="349.3,104.5 355.0,102.9 354.7,104.2 349.1,105.8" fill="#d01b18" stroke="#d01b18" stroke-width="0.6"/>
<polygon points="338.2,110.0 346.9,106.9 346.7,106.6 338.1,109.6" fill="#d01b18" stroke="#d01b18" stroke-width="0.6"/>
<polygon points="325.5,113.2 335.3,111.1 335.9,111.9 326.1,114.2" fill="#d01b18" stroke="#d01b18" stroke-width="0.6"/>
<polygon points="312.2,114.4 322.2,113.6 322.8,114.5 312.8,115.4" fill="#d01b18" stroke="#d01b18" stroke-width="0.6"/>
<polygon points="299.3,113.5 309.3,114.4 309.7,115.5 299.7,114.6" fill="#d01b18" stroke="#d01b18" stroke-width="0.6"/>
<polygon points="287.5,109.5 297.0,112.6 297.2,113.7 287.7,110.6" fill="#d01b18" stroke="#d01b18" stroke-width="0.6"/>
<polygon points="273.1,105.2 282.7,107.8 283.0,109.0 273.3,106.4" fill="#d01b18" stroke="#d01b18" stroke-width="0.6"/>
<polygon points="258.9,101.6 268.6,104.1 268.9,105.2 259.2,102.7" fill="#d01b18" stroke="#d01b18" stroke-width="0.6"/>
<polygon points="259.4,118.6 269.1,121.1 269.2,122.5 259.6,119.9" fill="#b30909" stroke="#b30909" stroke-width="0.6"/>
<polygon points="273.2,122.0 282.8,124.9 282.8,126.3 273.3,123.4" fill="#b30909" stroke="#b30909" stroke-width="0.6"/>
<polygon points="287.0,126.6 296.6,129.4 296.8,130.8 287.2,128.0" fill="#b30909" stroke="#b30909" stroke-width="0.6"/>
<polygon points="302.9,130.4 312.9,130.7 313.4,132.0 303.4,131.7" fill="#b30909" stroke="#b30909" stroke-width="0.6"/>
<polygon points="318.5,130.3 328.4,129.1 329.1,130.4 319.1,131.6" fill="#b30909" stroke="#b30909" stroke-width="0.6"/>
<polygon points="334.0,128.2 343.6,125.4 344.5,126.5 334.9,129.3" fill="#b30909" stroke="#b30909" stroke-width="0.6"/>
<polygon points="346.5,125.6 354.2,123.0 355.5,124.2 347.8,126.8" fill="#b30909" stroke="#b30909" stroke-width="0.6"/>
<polygon points="356.3,122.4 361.7,120.9 363.4,122.0 358.0,123.5" fill="#b30909" stroke="#b30909" stroke-width="0.6"/>
<polygon points="387.6,114.5 393.1,113.5 394.6,114.7 389.1,115.7" fill="#b30909" stroke="#b30909" stroke-width="0.6"/>
<polygon points="366.8,119.5 372.2,118.1 373.9,119.3 368.4,120.7" fill="#b30909" stroke="#b30909" stroke-width="0.6"/>
<polygon points="377.2,116.8 382.6,115.6 384.2,116.8 378.8,118.0" fill="#b30909" stroke="#b30909" stroke-width="0.6"/>
<polygon points="370.7,100.0 376.1,98.7 376.0,100.4 370.6,101.7" fill="#dc1f1b" stroke="#dc1f1b" stroke-width="0.6"/>
<polygon points="381.8,97.3 387.3,96.3 387.2,98.0 381.7,99.1" fill="#dc1f1b" stroke="#dc1f1b" stroke-width="0.6"/>
<polygon points="359.8,102.8 365.2,101.4 365.2,103.1 359.8,104.6" fill="#dc1f1b" stroke="#dc1f1b" stroke-width="0.6"/>
<polygon points="349.1,105.8 354.7,104.2 354.6,106.0 349.1,107.5" fill="#dc1f1b" stroke="#dc1f1b" stroke-width="0.6"/>
<polygon points="338.1,109.6 346.7,106.6 347.1,108.3 338.6,111.2" fill="#dc1f1b" stroke="#dc1f1b" stroke-width="0.6"/>
<polygon points="326.1,114.2 335.9,111.9 336.6,113.2 326.9,115.5" fill="#dc1f1b" stroke="#dc1f1b" stroke-width="0.6"/>
<polygon points="312.8,115.4 322.8,114.5 323.4,115.9 313.4,116.8" fill="#dc1f1b" stroke="#dc1f1b" stroke-width="0.6"/>
<polygon points="299.7,114.6 309.7,115.5 310.0,116.9 300.0,116.1" fill="#dc1f1b" stroke="#dc1f1b" stroke-width="0.6"/>
<polygon points="287.7,110.6 297.2,113.7 297.2,115.2 287.7,112.1" fill="#dc1f1b" stroke="#dc1f1b" stroke-width="0.6"/>
<polygon points="273.3,106.4 283.0,109.0 283.1,110.5 273.4,107.9" fill="#dc1f1b" stroke="#dc1f1b" stroke-width="0.6"/>
<polygon points="259.2,102.7 268.9,105.2 269.0,106.7 259.3,104.2" fill="#dc1f1b" stroke="#dc1f1b" stroke-width="0.6"/>
<polygon points="259.3,116.8 269.0,119.3 269.1,121.1 259.4,118.6" fill="#c20c0c" stroke="#c20c0c" stroke-width="0.6"/>
<polygon points="273.2,120.3 282.8,123.2 282.8,124.9 273.2,122.0" fill="#c20c0c" stroke="#c20c0c" stroke-width="0.6"/>
<polygon points="287.0,124.8 296.6,127.7 296.6,129.4 287.0,126.6" fill="#c20c0c" stroke="#c20c0c" stroke-width="0.6"/>
<polygon points="302.4,128.7 312.4,129.0 312.9,130.7 302.9,130.4" fill="#c20c0c" stroke="#c20c0c" stroke-width="0.6"/>
<polygon points="317.7,128.7 327.7,127.6 328.4,129.1 318.5,130.3" fill="#c20c0c" stroke="#c20c0c" stroke-width="0.6"/>
<polygon points="333.0,126.7 342.6,124.0 343.6,125.4 334.0,128.2" fill="#c20c0c" stroke="#c20c0c" stroke-width="0.6"/>
<polygon points="345.1,124.0 353.0,121.4 354.2,123.0 346.5,125.6" fill="#c20c0c" stroke="#c20c0c" stroke-width="0.6"/>
<polygon points="354.7,120.8 360.1,119.3 361.7,120.9 356.3,122.4" fill="#c20c0c" stroke="#c20c0c" stroke-width="0.6"/>
<polygon points="386.1,112.7 391.6,111.8 393.1,113.5 387.6,114.5" fill="#c20c0c" stroke="#c20c0c" stroke-width="0.6"/>
<polygon points="365.2,117.9 370.6,116.5 372.2,118.1 366.8,119.5" fill="#c20c0c" stroke="#c20c0c" stroke-width="0.6"/>
<polygon points="375.6,115.1 381.1,113.9 382.6,115.6 377.2,116.8" fill="#c20c0c" stroke="#c20c0c" stroke-width="0.6"/>
<polygon points="370.6,101.7 376.0,100.4 376.2,102.5 370.8,103.8" fill="#e3201c" stroke="#e3201c" stroke-width="0.6"/>
<polygon points="381.7,99.1 387.2,98.0 387.3,100.1 381.8,101.1" fill="#e3201c" stroke="#e3201c" stroke-width="0.6"/>
<polygon points="359.8,104.6 365.2,103.1 365.4,105.2 360.0,106.6" fill="#e3201c" stroke="#e3201c" stroke-width="0.6"/>
<polygon points="349.1,107.5 354.6,106.0 354.8,108.1 349.4,109.6" fill="#e3201c" stroke="#e3201c" stroke-width="0.6"/>
<polygon points="338.6,111.2 347.1,108.3 347.7,110.2 339.3,113.1" fill="#e3201c" stroke="#e3201c" stroke-width="0.6"/>
<polygon points="326.9,115.5 336.6,113.2 337.5,114.8 327.8,117.1" fill="#e3201c" stroke="#e3201c" stroke-width="0.6"/>
<polygon points="313.4,116.8 323.4,115.9 324.0,117.6 314.0,118.5" fill="#e3201c" stroke="#e3201c" stroke-width="0.6"/>
<polygon points="300.0,116.1 310.0,116.9 310.3,118.7 300.4,118.0" fill="#e3201c" stroke="#e3201c" stroke-width="0.6"/>
<polygon points="287.7,112.1 297.2,115.2 297.1,117.1 287.6,114.0" fill="#e3201c" stroke="#e3201c" stroke-width="0.6"/>
<polygon points="273.4,107.9 283.1,110.5 283.1,112.3 273.5,109.7" fill="#e3201c" stroke="#e3201c" stroke-width="0.6"/>
<polygon points="259.3,104.2 269.0,106.7 269.1,108.6 259.4,106.1" fill="#e3201c" stroke="#e3201c" stroke-width="0.6"/>
<polygon points="259.3,114.8 269.0,117.3 269.0,119.3 259.3,116.8" fill="#cc0d0d" stroke="#cc0d0d" stroke-width="0.6"/>
<polygon points="273.3,118.4 282.9,121.1 282.8,123.2 273.2,120.3" fill="#cc0d0d" stroke="#cc0d0d" stroke-width="0.6"/>
<polygon points="287.0,122.8 296.6,125.7 296.6,127.7 287.0,124.8" fill="#cc0d0d" stroke="#cc0d0d" stroke-width="0.6"/>
<polygon points="301.9,126.7 311.9,127.1 312.4,129.0 302.4,128.7" fill="#cc0d0d" stroke="#cc0d0d" stroke-width="0.6"/>
<polygon points="317.0,126.8 326.9,125.7 327.7,127.6 317.7,128.7" fill="#cc0d0d" stroke="#cc0d0d" stroke-width="0.6"/>
<polygon points="331.9,125.0 341.6,122.3 342.6,124.0 333.0,126.7" fill="#cc0d0d" stroke="#cc0d0d" stroke-width="0.6"/>
<polygon points="343.8,122.1 351.7,119.4 353.0,121.4 345.1,124.0" fill="#cc0d0d" stroke="#cc0d0d" stroke-width="0.6"/>
<polygon points="353.2,118.9 358.6,117.4 360.1,119.3 354.7,120.8" fill="#cc0d0d" stroke="#cc0d0d" stroke-width="0.6"/>
<polygon points="384.8,110.7 390.3,109.7 391.6,111.8 386.1,112.7" fill="#cc0d0d" stroke="#cc0d0d" stroke-width="0.6"/>
<polygon points="363.7,115.9 369.1,114.5 370.6,116.5 365.2,117.9" fill="#cc0d0d" stroke="#cc0d0d" stroke-width="0.6"/>
<polygon points="374.2,113.1 379.7,111.9 381.1,113.9 375.6,115.1" fill="#cc0d0d" stroke="#cc0d0d" stroke-width="0.6"/>
<polygon points="370.8,103.8 376.2,102.5 376.7,104.8 371.3,106.1" fill="#e21c19" stroke="#e21c19" stroke-width="0.6"/>
<polygon points="360.0,106.6 365.4,105.2 366.0,107.5 360.6,108.9" fill="#e21c19" stroke="#e21c19" stroke-width="0.6"/>
<polygon points="381.8,101.1 387.3,100.1 387.6,102.5 382.1,103.5" fill="#e21c19" stroke="#e21c19" stroke-width="0.6"/>
<polygon points="349.4,109.6 354.8,108.1 355.3,110.4 349.9,111.9" fill="#e21c19" stroke="#e21c19" stroke-width="0.6"/>
<polygon points="339.3,113.1 347.7,110.2 348.5,112.5 340.3,115.3" fill="#e21c19" stroke="#e21c19" stroke-width="0.6"/>
<polygon points="327.8,117.1 337.5,114.8 338.4,116.6 328.7,119.0" fill="#e21c19" stroke="#e21c19" stroke-width="0.6"/>
<polygon points="314.0,118.5 324.0,117.6 324.7,119.5 314.7,120.5" fill="#e21c19" stroke="#e21c19" stroke-width="0.6"/>
<polygon points="300.4,118.0 310.3,118.7 310.7,120.7 300.7,120.0" fill="#e21c19" stroke="#e21c19" stroke-width="0.6"/>
<polygon points="287.6,114.0 297.1,117.1 297.0,119.1 287.5,116.1" fill="#e21c19" stroke="#e21c19" stroke-width="0.6"/>
<polygon points="273.5,109.7 283.1,112.3 283.1,114.4 273.5,111.8" fill="#e21c19" stroke="#e21c19" stroke-width="0.6"/>
<polygon points="259.4,106.1 269.1,108.6 269.1,110.7 259.4,108.2" fill="#e21c19" stroke="#e21c19" stroke-width="0.6"/>
<polygon points="259.3,112.6 269.0,115.1 269.0,117.3 259.3,114.8" fill="#d30f0f" stroke="#d30f0f" stroke-width="0.6"/>
<polygon points="273.3,116.2 283.0,118.9 282.9,121.1 273.3,118.4" fill="#d30f0f" stroke="#d30f0f" stroke-width="0.6"/>
<polygon points="287.1,120.6 296.7,123.5 296.6,125.7 287.0,122.8" fill="#d30f0f" stroke="#d30f0f" stroke-width="0.6"/>
<polygon points="301.5,124.5 311.5,125.0 311.9,127.1 301.9,126.7" fill="#d30f0f" stroke="#d30f0f" stroke-width="0.6"/>
<polygon points="316.2,124.8 326.2,123.7 326.9,125.7 317.0,126.8" fill="#d30f0f" stroke="#d30f0f" stroke-width="0.6"/>
<polygon points="330.9,123.0 340.5,120.5 341.6,122.3 331.9,125.0" fill="#d30f0f" stroke="#d30f0f" stroke-width="0.6"/>
<polygon points="342.5,119.9 350.6,117.2 351.7,119.4 343.8,122.1" fill="#d30f0f" stroke="#d30f0f" stroke-width="0.6"/>
<polygon points="351.9,116.6 357.3,115.2 358.6,117.4 353.2,118.9" fill="#d30f0f" stroke="#d30f0f" stroke-width="0.6"/>
<polygon points="383.6,108.4 389.2,107.4 390.3,109.7 384.8,110.7" fill="#d30f0f" stroke="#d30f0f" stroke-width="0.6"/>
<polygon points="362.4,113.7 367.9,112.3 369.1,114.5 363.7,115.9" fill="#d30f0f" stroke="#d30f0f" stroke-width="0.6"/>
<polygon points="373.0,110.9 378.5,109.6 379.7,111.9 374.2,113.1" fill="#d30f0f" stroke="#d30f0f" stroke-width="0.6"/>
<polygon points="371.3,106.1 376.7,104.8 377.5,107.2 372.0,108.5" fill="#df1615" stroke="#df1615" stroke-width="0.6"/>
<polygon points="360.6,108.9 366.0,107.5 366.8,109.9 361.4,111.3" fill="#df1615" stroke="#df1615" stroke-width="0.6"/>
<polygon points="382.1,103.5 387.6,102.5 388.3,104.9 382.8,105.9" fill="#df1615" stroke="#df1615" stroke-width="0.6"/>
<polygon points="349.9,111.9 355.3,110.4 356.2,112.8 350.8,114.3" fill="#df1615" stroke="#df1615" stroke-width="0.6"/>
<polygon points="340.3,115.3 348.5,112.5 349.5,114.8 341.3,117.6" fill="#df1615" stroke="#df1615" stroke-width="0.6"/>
<polygon points="328.7,119.0 338.4,116.6 339.5,118.5 329.8,121.0" fill="#df1615" stroke="#df1615" stroke-width="0.6"/>
<polygon points="314.7,120.5 324.7,119.5 325.4,121.6 315.5,122.6" fill="#df1615" stroke="#df1615" stroke-width="0.6"/>
<polygon points="300.7,120.0 310.7,120.7 311.1,122.8 301.1,122.2" fill="#df1615" stroke="#df1615" stroke-width="0.6"/>
<polygon points="287.5,116.1 297.0,119.1 296.8,121.3 287.3,118.3" fill="#df1615" stroke="#df1615" stroke-width="0.6"/>
<polygon points="273.5,111.8 283.1,114.4 283.1,116.6 273.4,114.0" fill="#df1615" stroke="#df1615" stroke-width="0.6"/>
<polygon points="259.4,108.2 269.1,110.7 269.0,112.9 259.4,110.4" fill="#df1615" stroke="#df1615" stroke-width="0.6"/>
<polygon points="259.4,110.4 269.0,112.9 269.0,115.1 259.3,112.6" fill="#db1010" stroke="#db1010" stroke-width="0.6"/>
<polygon points="273.4,114.0 283.1,116.6 283.0,118.9 273.3,116.2" fill="#db1010" stroke="#db1010" stroke-width="0.6"/>
<polygon points="287.3,118.3 296.8,121.3 296.7,123.5 287.1,120.6" fill="#db1010" stroke="#db1010" stroke-width="0.6"/>
<polygon points="301.1,122.2 311.1,122.8 311.5,125.0 301.5,124.5" fill="#db1010" stroke="#db1010" stroke-width="0.6"/>
<polygon points="315.5,122.6 325.4,121.6 326.2,123.7 316.2,124.8" fill="#db1010" stroke="#db1010" stroke-width="0.6"/>
<polygon points="329.8,121.0 339.5,118.5 340.5,120.5 330.9,123.0" fill="#db1010" stroke="#db1010" stroke-width="0.6"/>
<polygon points="341.3,117.6 349.5,114.8 350.6,117.2 342.5,119.9" fill="#db1010" stroke="#db1010" stroke-width="0.6"/>
<polygon points="350.8,114.3 356.2,112.8 357.3,115.2 351.9,116.6" fill="#db1010" stroke="#db1010" stroke-width="0.6"/>
<polygon points="382.8,105.9 388.3,104.9 389.2,107.4 383.6,108.4" fill="#db1010" stroke="#db1010" stroke-width="0.6"/>
<polygon points="361.4,111.3 366.8,109.9 367.9,112.3 362.4,113.7" fill="#db1010" stroke="#db1010" stroke-width="0.6"/>
<polygon points="372.0,108.5 377.5,107.2 378.5,109.6 373.0,110.9" fill="#db1010" stroke="#db1010" stroke-width="0.6"/>
</g>
<text x="405" y="80.6" style="font-size:15px;fill:#111">α1</text>
<text x="404.5" y="115" style="font-size:15px;fill:#111">α2</text>

<!-- gene diagram -->
<line x1="119.5" y1="188.1" x2="730.5" y2="188.1" stroke="#000" stroke-width="2.6"/>
<g filter="url(#sh)">
<rect x="162.6" y="175" width="31" height="21" rx="3" fill="#8ecf4e"/>
<rect x="233.6" y="175" width="72.4" height="20.6" rx="3" fill="#f8b800"/>
<rect x="325.6" y="175" width="71.4" height="20.2" rx="3" fill="#cc0404"/>
<rect x="437" y="174.8" width="73" height="21.4" rx="3" fill="#8ecf4e"/>
<rect x="549.6" y="175" width="35.4" height="21" rx="3" fill="#8ecf4e"/>
<rect x="605.6" y="175" width="18" height="21" rx="3" fill="#8ecf4e"/>
<rect x="643.6" y="175" width="18" height="21" rx="3" fill="#8ecf4e"/>
<rect x="684.2" y="175" width="9.6" height="21" rx="2" fill="#8ecf4e"/>
</g>
<text x="115" y="180.3" style="font-size:19px;font-weight:bold;fill:#000">5’</text>
<text x="715.7" y="180.4" style="font-size:19px;font-weight:bold;fill:#000">3’</text>
<text x="169.8" y="171.6" style="font-size:16.5px;fill:#111">SP</text>
<text x="264.3" y="172.2" style="font-size:15px;fill:#111">α1</text>
<text x="348.3" y="172.2" style="font-size:15px;fill:#111">α2</text>
<text x="460.3" y="172.2" style="font-size:15px;fill:#111">α3</text>
<text x="558.5" y="171.6" style="font-size:16px;fill:#111">TM</text>
<text x="642.3" y="171.6" style="font-size:16.5px;fill:#111">CP</text>
<text x="270" y="191.4" style="font-size:16px;fill:#2a1a00;text-anchor:middle">270 nt</text>
<text x="361.2" y="191.2" style="font-size:16px;fill:#5a0000;text-anchor:middle">276 nt</text>
<text x="473.5" y="191.8" style="font-size:16px;fill:#0a2a00;text-anchor:middle">276 nt</text>

<!-- axis -->
<path d="M91.5,193.7 H98.3 V300.5 H91.5 M91.5,220.4 H98.3 M91.5,247.1 H98.3 M91.5,273.8 H98.3" fill="none" stroke="#555" stroke-width="1.1"/>
<text class="tick" x="86" y="199.4">2.0</text>
<text class="tick" x="86" y="226.1">1.5</text>
<text class="tick" x="86" y="252.8">1.0</text>
<text class="tick" x="86" y="279.5">0.5</text>
<text class="tick" x="86" y="306.2">0.0</text>
<text transform="translate(50.3,239.3) rotate(-90)" style="font-size:17.5px;fill:#111;text-anchor:middle">Variability</text>

<!-- chart -->
<path d="M125.00,300.00 L125.25,300.00 L125.50,300.00 L125.75,300.00 L126.00,300.00 L126.25,299.98 L126.50,299.95 L126.75,299.86 L127.00,299.63 L127.25,299.13 L127.50,298.15 L127.75,296.43 L128.00,293.78 L128.25,290.15 L128.50,285.87 L128.75,281.60 L129.00,278.28 L129.25,276.75 L129.50,277.42 L129.75,280.11 L130.00,284.11 L130.25,288.49 L130.50,292.44 L130.75,295.49 L131.00,297.56 L131.25,298.81 L131.50,299.47 L131.75,299.79 L132.00,299.92 L132.25,299.97 L132.50,299.99 L132.75,300.00 L133.00,300.00 L133.25,300.00 L133.50,300.00 L133.75,300.00 L134.00,300.00 L134.25,300.00 L134.50,300.00 L134.75,300.00 L135.00,300.00 L135.25,300.00 L135.50,300.00 L135.75,300.00 L136.00,300.00 L136.25,300.00 L136.50,300.00 L136.75,300.00 L137.00,300.00 L137.25,300.00 L137.50,300.00 L137.75,300.00 L138.00,300.00 L138.25,300.00 L138.50,299.99 L138.75,299.97 L139.00,299.92 L139.25,299.82 L139.50,299.59 L139.75,299.19 L140.00,298.53 L140.25,297.58 L140.50,296.39 L140.75,295.11 L141.00,294.00 L141.25,293.32 L141.50,293.25 L141.75,293.82 L142.00,294.87 L142.25,296.13 L142.50,297.36 L142.75,298.36 L143.00,299.08 L143.25,299.53 L143.50,299.78 L143.75,299.91 L144.00,299.97 L144.25,299.99 L144.50,300.00 L144.75,300.00 L145.00,300.00 L145.25,300.00 L145.50,300.00 L145.75,300.00 L146.00,300.00 L146.25,300.00 L146.50,300.00 L146.75,300.00 L147.00,300.00 L147.25,300.00 L147.50,300.00 L147.75,300.00 L148.00,299.99 L148.25,299.96 L148.50,299.87 L148.75,299.62 L149.00,299.02 L149.25,297.70 L149.50,295.13 L149.75,290.63 L150.00,283.66 L150.25,274.14 L150.50,262.88 L150.75,251.68 L151.00,242.96 L151.25,238.92 L151.50,240.68 L151.75,247.76 L152.00,258.27 L152.25,269.76 L152.50,280.13 L152.75,288.16 L153.00,293.60 L153.25,296.86 L153.50,298.60 L153.75,299.44 L154.00,299.79 L154.25,299.66 L154.50,299.13 L154.75,297.96 L155.00,295.66 L155.25,291.66 L155.50,285.45 L155.75,276.97 L156.00,266.94 L156.25,256.97 L156.50,249.20 L156.75,245.61 L157.00,247.18 L157.25,253.47 L157.50,262.83 L157.75,273.07 L158.00,282.31 L158.25,289.46 L158.50,294.30 L158.75,295.56 L159.00,291.62 L159.25,285.66 L159.50,277.75 L159.75,268.68 L160.00,260.02 L160.25,253.72 L160.50,251.40 L160.75,253.72 L161.00,260.02 L161.25,268.68 L161.50,277.75 L161.75,285.66 L162.00,291.62 L162.25,295.56 L162.50,297.86 L162.75,299.07 L163.00,299.63 L163.25,299.87 L163.50,299.96 L163.75,299.99 L164.00,300.00 L164.25,299.99 L164.50,299.98 L164.75,299.93 L165.00,299.82 L165.25,299.58 L165.50,299.11 L165.75,298.29 L166.00,297.01 L166.25,295.27 L166.50,293.21 L166.75,291.16 L167.00,289.56 L167.25,288.82 L167.50,289.14 L167.75,290.44 L168.00,292.36 L168.25,294.47 L168.50,296.36 L168.75,297.83 L169.00,298.83 L169.25,299.43 L169.50,299.74 L169.75,299.90 L170.00,299.96 L170.25,299.99 L170.50,299.97 L170.75,299.93 L171.00,299.82 L171.25,299.59 L171.50,299.17 L171.75,298.47 L172.00,297.44 L172.25,296.10 L172.50,294.61 L172.75,293.26 L173.00,292.34 L173.25,292.12 L173.50,292.64 L173.75,293.76 L174.00,295.21 L174.25,296.66 L174.50,297.89 L174.75,298.79 L175.00,298.93 L175.25,298.17 L175.50,297.16 L175.75,296.00 L176.00,294.90 L176.25,294.10 L176.50,293.80 L176.75,294.10 L177.00,294.90 L177.25,296.00 L177.50,296.70 L177.75,295.36 L178.00,294.08 L178.25,293.14 L178.50,292.80 L178.75,293.14 L179.00,294.08 L179.25,295.36 L179.50,296.70 L179.75,296.33 L180.00,295.31 L180.25,294.57 L180.50,294.30 L180.75,294.57 L181.00,295.31 L181.25,296.33 L181.50,294.86 L181.75,290.85 L182.00,285.23 L182.25,278.39 L182.50,271.32 L182.75,265.47 L183.00,262.30 L183.25,262.66 L183.50,266.47 L183.75,272.68 L184.00,279.82 L184.25,286.48 L184.50,291.78 L184.75,295.47 L185.00,297.74 L185.25,298.97 L185.50,299.58 L185.75,299.84 L186.00,299.95 L186.25,299.98 L186.50,300.00 L186.75,300.00 L187.00,300.00 L187.25,300.00 L187.50,300.00 L187.75,300.00 L188.00,300.00 L188.25,300.00 L188.50,300.00 L188.75,299.99 L189.00,299.97 L189.25,299.92 L189.50,299.78 L189.75,299.46 L190.00,298.81 L190.25,297.62 L190.50,295.67 L190.75,292.88 L191.00,289.38 L191.25,285.62 L191.50,282.35 L191.75,280.35 L192.00,280.16 L192.25,281.83 L192.50,284.90 L192.75,288.63 L193.00,292.23 L193.25,295.18 L193.50,297.29 L193.75,298.62 L194.00,299.36 L194.25,299.73 L194.50,299.90 L194.75,299.96 L195.00,299.99 L195.25,300.00 L195.50,300.00 L195.75,300.00 L196.00,300.00 L196.25,300.00 L196.50,300.00 L196.75,300.00 L197.00,300.00 L197.25,299.99 L197.50,299.98 L197.75,299.93 L198.00,299.77 L198.25,299.38 L198.50,298.47 L198.75,296.55 L199.00,292.97 L199.25,287.00 L199.50,278.18 L199.75,266.80 L200.00,254.17 L200.25,242.63 L200.50,234.87 L200.75,232.93 L201.00,237.36 L201.25,246.94 L201.50,259.24 L201.75,271.60 L202.00,282.05 L202.25,281.53 L202.50,272.44 L202.75,262.69 L203.00,254.20 L203.25,249.00 L203.50,248.50 L203.75,252.84 L204.00,260.82 L204.25,270.49 L204.50,279.83 L204.75,287.50 L205.00,292.98 L205.25,296.42 L205.50,298.34 L205.75,299.31 L206.00,299.74 L206.25,299.91 L206.50,299.97 L206.75,299.99 L207.00,300.00 L207.25,300.00 L207.50,300.00 L207.75,300.00 L208.00,300.00 L208.25,300.00 L208.50,300.00 L208.75,300.00 L209.00,300.00 L209.25,300.00 L209.50,300.00 L209.75,300.00 L210.00,300.00 L210.25,300.00 L210.50,300.00 L210.75,300.00 L211.00,300.00 L211.25,300.00 L211.50,300.00 L211.75,300.00 L212.00,300.00 L212.25,300.00 L212.50,300.00 L212.75,300.00 L213.00,300.00 L213.25,300.00 L213.50,300.00 L213.75,300.00 L214.00,300.00 L214.25,300.00 L214.50,300.00 L214.75,300.00 L215.00,300.00 L215.25,300.00 L215.50,300.00 L215.75,300.00 L216.00,300.00 L216.25,300.00 L216.50,300.00 L216.75,300.00 L217.00,300.00 L217.25,300.00 L217.50,300.00 L217.75,300.00 L218.00,300.00 L218.25,300.00 L218.50,300.00 L218.75,300.00 L219.00,300.00 L219.25,299.99 L219.50,299.97 L219.75,299.91 L220.00,299.78 L220.25,299.53 L220.50,299.08 L220.75,298.36 L221.00,297.36 L221.25,296.13 L221.50,294.87 L221.75,293.82 L222.00,293.25 L222.25,293.32 L222.50,294.00 L222.75,295.11 L223.00,296.39 L223.25,297.58 L223.50,298.53 L223.75,299.19 L224.00,299.59 L224.25,299.82 L224.50,299.67 L224.75,299.15 L225.00,298.06 L225.25,295.96 L225.50,292.38 L225.75,286.96 L226.00,279.76 L226.25,271.52 L226.50,263.64 L226.75,257.91 L227.00,255.80 L227.25,257.91 L227.50,263.64 L227.75,271.52 L228.00,279.76 L228.25,286.31 L228.50,281.11 L228.75,276.35 L229.00,273.15 L229.25,272.35 L229.50,274.18 L229.75,278.13 L230.00,283.20 L230.25,288.29 L230.50,292.60 L230.75,295.76 L231.00,297.80 L231.25,298.96 L231.50,299.56 L231.75,299.83 L232.00,299.94 L232.25,299.98 L232.50,299.99 L232.75,300.00 L233.00,300.00 L233.25,300.00 L233.50,300.00 L233.75,300.00 L234.00,300.00 L234.25,300.00 L234.50,300.00 L234.75,300.00 L235.00,299.99 L235.25,299.98 L235.50,299.92 L235.75,299.77 L236.00,299.39 L236.25,298.53 L236.50,296.75 L236.75,293.50 L237.00,288.21 L237.25,280.61 L237.50,271.06 L237.75,260.82 L238.00,251.90 L238.25,246.45 L238.50,245.92 L238.75,250.47 L239.00,258.86 L239.25,269.01 L239.50,278.82 L239.75,286.88 L240.00,292.62 L240.25,296.24 L240.50,298.26 L240.75,299.27 L241.00,299.72 L241.25,299.83 L241.50,299.60 L241.75,299.18 L242.00,298.45 L242.25,297.34 L242.50,295.88 L242.75,294.20 L243.00,292.60 L243.25,291.43 L243.50,291.00 L243.75,291.43 L244.00,292.60 L244.25,294.20 L244.50,295.88 L244.75,297.34 L245.00,298.45 L245.25,299.18 L245.50,299.60 L245.75,299.83 L246.00,299.93 L246.25,299.98 L246.50,299.99 L246.75,300.00 L247.00,300.00 L247.25,300.00 L247.50,300.00 L247.75,300.00 L248.00,300.00 L248.25,300.00 L248.50,300.00 L248.75,300.00 L249.00,300.00 L249.25,300.00 L249.50,300.00 L249.75,300.00 L250.00,300.00 L250.25,300.00 L250.50,300.00 L250.75,300.00 L251.00,300.00 L251.25,300.00 L251.50,300.00 L251.75,300.00 L252.00,300.00 L252.25,300.00 L252.50,300.00 L252.75,300.00 L253.00,300.00 L253.25,300.00 L253.50,300.00 L253.75,300.00 L254.00,300.00 L254.25,300.00 L254.50,300.00 L254.75,300.00 L255.00,300.00 L255.25,299.99 L255.50,299.96 L255.75,299.89 L256.00,299.69 L256.25,299.25 L256.50,298.35 L256.75,296.70 L257.00,294.01 L257.25,290.14 L257.50,285.29 L257.75,280.09 L258.00,275.55 L258.25,272.78 L258.50,272.52 L258.75,274.83 L259.00,279.09 L259.25,284.25 L259.50,289.24 L259.75,293.33 L260.00,296.25 L260.25,298.09 L260.50,299.12 L260.75,299.63 L261.00,299.86 L261.25,299.79 L261.50,299.45 L261.75,298.66 L262.00,297.04 L262.25,294.08 L262.50,289.25 L262.75,282.31 L263.00,273.60 L263.25,264.27 L263.50,256.14 L263.75,251.17 L264.00,250.69 L264.25,254.84 L264.50,262.48 L264.75,271.74 L265.00,280.69 L265.25,284.69 L265.50,276.24 L265.75,266.56 L266.00,257.31 L266.25,250.57 L266.50,248.10 L266.75,250.57 L267.00,257.31 L267.25,266.56 L267.50,276.24 L267.75,284.69 L268.00,291.05 L268.25,295.26 L268.50,297.72 L268.75,298.57 L269.00,296.84 L269.25,293.68 L269.50,288.54 L269.75,281.14 L270.00,271.85 L270.25,261.90 L270.50,253.23 L270.75,247.92 L271.00,247.41 L271.25,251.84 L271.50,259.99 L271.75,269.86 L272.00,260.21 L272.25,241.77 L272.50,222.70 L272.75,206.95 L273.00,198.40 L273.25,199.38 L273.50,209.63 L273.75,226.39 L274.00,245.62 L274.25,263.56 L274.50,277.85 L274.75,287.79 L275.00,293.90 L275.25,297.23 L275.50,296.17 L275.75,293.45 L276.00,289.84 L276.25,285.69 L276.50,281.74 L276.75,278.86 L277.00,277.80 L277.25,278.86 L277.50,281.74 L277.75,285.69 L278.00,289.84 L278.25,293.45 L278.50,296.17 L278.75,297.97 L279.00,296.71 L279.25,293.68 L279.50,288.97 L279.75,282.55 L280.00,274.95 L280.25,267.39 L280.50,261.50 L280.75,258.78 L281.00,259.97 L281.25,264.74 L281.50,271.84 L281.75,279.59 L282.00,286.59 L282.25,292.01 L282.50,295.68 L282.75,297.88 L283.00,299.06 L283.25,299.62 L283.50,299.86 L283.75,299.95 L284.00,299.98 L284.25,299.93 L284.50,299.82 L284.75,299.58 L285.00,299.11 L285.25,298.29 L285.50,297.01 L285.75,295.27 L286.00,293.21 L286.25,291.16 L286.50,289.56 L286.75,288.82 L287.00,289.14 L287.25,290.44 L287.50,292.36 L287.75,294.47 L288.00,296.36 L288.25,297.83 L288.50,298.83 L288.75,297.62 L289.00,295.15 L289.25,291.02 L289.50,284.94 L289.75,277.08 L290.00,268.36 L290.25,260.39 L290.50,255.03 L290.75,253.69 L291.00,256.75 L291.25,263.37 L291.50,271.86 L291.75,280.39 L292.00,287.61 L292.25,292.90 L292.50,296.31 L292.75,298.26 L293.00,299.26 L293.25,299.15 L293.50,298.06 L293.75,295.96 L294.00,292.38 L294.25,286.96 L294.50,279.76 L294.75,271.52 L295.00,263.64 L295.25,257.91 L295.50,255.80 L295.75,257.91 L296.00,263.64 L296.25,271.52 L296.50,279.76 L296.75,284.27 L297.00,276.53 L297.25,268.23 L297.50,260.99 L297.75,256.57 L298.00,256.14 L298.25,259.83 L298.50,266.64 L298.75,274.86 L299.00,282.83 L299.25,289.36 L299.50,294.02 L299.75,296.95 L300.00,298.59 L300.25,299.41 L300.50,299.78 L300.75,299.92 L301.00,299.98 L301.25,299.99 L301.50,299.98 L301.75,299.94 L302.00,299.84 L302.25,299.65 L302.50,299.29 L302.75,298.68 L303.00,297.79 L303.25,296.64 L303.50,295.36 L303.75,294.20 L304.00,293.41 L304.25,293.21 L304.50,293.66 L304.75,294.63 L305.00,295.88 L305.25,297.13 L305.50,298.18 L305.75,298.96 L306.00,299.46 L306.25,299.74 L306.50,299.67 L306.75,299.30 L307.00,298.62 L307.25,297.54 L307.50,296.04 L307.75,294.20 L308.00,292.30 L308.25,290.73 L308.50,289.88 L308.75,289.98 L309.00,291.00 L309.25,292.67 L309.50,294.58 L309.75,293.45 L310.00,289.84 L310.25,285.69 L310.50,281.74 L310.75,278.86 L311.00,277.80 L311.25,278.86 L311.50,281.74 L311.75,285.69 L312.00,289.84 L312.25,293.45 L312.50,296.17 L312.75,297.97 L313.00,297.01 L313.25,295.27 L313.50,293.21 L313.75,291.16 L314.00,289.56 L314.25,288.82 L314.50,289.14 L314.75,290.44 L315.00,292.36 L315.25,294.47 L315.50,296.36 L315.75,297.83 L316.00,298.48 L316.25,297.30 L316.50,295.65 L316.75,293.63 L317.00,291.55 L317.25,289.82 L317.50,288.89 L317.75,289.00 L318.00,290.12 L318.25,291.95 L318.50,294.05 L318.75,296.01 L319.00,297.58 L319.25,298.66 L319.50,299.33 L319.75,299.70 L320.00,299.88 L320.25,299.95 L320.50,299.98 L320.75,300.00 L321.00,300.00 L321.25,300.00 L321.50,300.00 L321.75,300.00 L322.00,300.00 L322.25,300.00 L322.50,300.00 L322.75,300.00 L323.00,300.00 L323.25,300.00 L323.50,300.00 L323.75,300.00 L324.00,300.00 L324.25,300.00 L324.50,300.00 L324.75,300.00 L325.00,300.00 L325.25,300.00 L325.50,300.00 L325.75,300.00 L326.00,300.00 L326.25,300.00 L326.50,299.99 L326.75,299.95 L327.00,299.86 L327.25,299.62 L327.50,299.07 L327.75,297.90 L328.00,295.72 L328.25,292.09 L328.50,286.72 L328.75,279.79 L329.00,272.11 L329.25,265.08 L329.50,260.36 L329.75,259.18 L330.00,261.88 L330.25,267.71 L330.50,275.19 L330.75,282.72 L331.00,289.08 L331.25,292.33 L331.50,286.62 L331.75,278.83 L332.00,269.61 L332.25,260.44 L332.50,253.30 L332.75,250.00 L333.00,251.44 L333.25,257.23 L333.50,265.83 L333.75,275.25 L334.00,283.73 L334.25,276.53 L334.50,267.61 L334.75,259.45 L335.00,253.96 L335.25,252.59 L335.50,255.73 L335.75,262.50 L336.00,271.19 L336.25,279.93 L336.50,287.32 L336.75,292.73 L337.00,296.22 L337.25,298.22 L337.50,299.24 L337.75,299.70 L338.00,299.62 L338.25,299.03 L338.50,297.77 L338.75,295.36 L339.00,291.24 L339.25,285.01 L339.50,276.74 L339.75,267.27 L340.00,258.21 L340.25,251.62 L340.50,249.20 L340.75,251.62 L341.00,258.21 L341.25,267.27 L341.50,276.74 L341.75,285.01 L342.00,291.24 L342.25,295.36 L342.50,297.77 L342.75,298.68 L343.00,296.86 L343.25,293.20 L343.50,286.67 L343.75,276.28 L344.00,261.73 L344.25,243.99 L344.50,225.65 L344.75,210.49 L345.00,202.27 L345.25,203.22 L345.50,213.07 L345.75,229.19 L346.00,247.69 L346.25,260.91 L346.50,243.90 L346.75,226.97 L347.00,213.78 L347.25,207.68 L347.50,210.35 L347.75,221.03 L348.00,236.92 L348.25,254.30 L348.50,269.97 L348.75,282.10 L349.00,290.33 L349.25,295.26 L349.50,297.89 L349.75,299.15 L350.00,299.69 L350.25,299.47 L350.50,298.64 L350.75,296.82 L351.00,293.25 L351.25,287.02 L351.50,277.35 L351.75,264.16 L352.00,248.57 L352.25,233.05 L352.50,220.96 L352.75,215.37 L353.00,217.81 L353.25,227.61 L353.50,242.17 L353.75,258.10 L354.00,272.47 L354.25,283.59 L354.50,291.13 L354.75,294.65 L355.00,289.91 L355.25,282.74 L355.50,273.22 L355.75,262.30 L356.00,251.88 L356.25,244.29 L356.50,241.50 L356.75,244.29 L357.00,251.88 L357.25,262.30 L357.50,273.22 L357.75,282.74 L358.00,289.91 L358.25,286.94 L358.50,277.22 L358.75,263.95 L359.00,248.26 L359.25,232.65 L359.50,220.49 L359.75,214.87 L360.00,217.32 L360.25,227.18 L360.50,241.83 L360.75,257.86 L361.00,272.31 L361.25,283.50 L361.50,291.08 L361.75,295.63 L362.00,298.06 L362.25,299.22 L362.50,299.71 L362.75,299.90 L363.00,299.97 L363.25,299.99 L363.50,299.96 L363.75,299.88 L364.00,299.68 L364.25,299.22 L364.50,298.28 L364.75,296.57 L365.00,293.77 L365.25,289.75 L365.50,284.70 L365.75,279.30 L366.00,274.58 L366.25,271.70 L366.50,271.42 L366.75,273.83 L367.00,278.26 L367.25,283.62 L367.50,288.81 L367.75,293.07 L368.00,296.10 L368.25,296.50 L368.50,292.86 L368.75,286.79 L369.00,277.83 L369.25,266.26 L369.50,253.42 L369.75,241.69 L370.00,233.80 L370.25,231.83 L370.50,236.34 L370.75,246.08 L371.00,258.57 L371.25,271.14 L371.50,281.76 L371.75,289.55 L372.00,294.57 L372.25,297.44 L372.50,298.90 L372.75,299.58 L373.00,299.85 L373.25,299.95 L373.50,299.99 L373.75,300.00 L374.00,300.00 L374.25,300.00 L374.50,300.00 L374.75,299.99 L375.00,299.96 L375.25,299.88 L375.50,299.66 L375.75,299.09 L376.00,297.84 L376.25,295.33 L376.50,290.84 L376.75,283.70 L377.00,273.69 L377.25,261.50 L377.50,248.90 L377.75,238.48 L378.00,232.83 L378.25,233.48 L378.50,240.25 L378.75,251.33 L379.00,264.04 L379.25,275.91 L379.50,285.36 L379.75,289.53 L380.00,282.44 L380.25,273.27 L380.50,263.11 L380.75,253.82 L381.00,247.56 L381.25,246.01 L381.50,249.57 L381.75,257.29 L382.00,267.19 L382.25,277.14 L382.50,285.55 L382.75,291.72 L383.00,295.70 L383.25,297.97 L383.50,299.13 L383.75,299.66 L384.00,299.88 L384.25,299.72 L384.50,299.27 L384.75,298.30 L385.00,296.40 L385.25,293.07 L385.50,287.90 L385.75,280.86 L386.00,272.52 L386.25,264.23 L386.50,257.78 L386.75,254.79 L387.00,256.09 L387.25,261.33 L387.50,269.11 L387.75,277.62 L388.00,285.29 L388.25,290.66 L388.50,288.07 L388.75,286.19 L389.00,285.50 L389.25,286.19 L389.50,288.07 L389.75,285.06 L390.00,274.94 L390.25,261.86 L390.50,247.35 L390.75,234.10 L391.00,225.18 L391.25,222.95 L391.50,228.04 L391.75,239.05 L392.00,253.18 L392.25,267.38 L392.50,279.38 L392.75,283.18 L393.00,275.86 L393.25,268.58 L393.50,262.90 L393.75,260.28 L394.00,261.42 L394.25,266.02 L394.50,272.86 L394.75,280.34 L395.00,287.08 L395.25,292.30 L395.50,295.84 L395.75,297.96 L396.00,299.04 L396.25,297.85 L396.50,295.61 L396.75,291.87 L397.00,286.36 L397.25,279.25 L397.50,271.36 L397.75,264.15 L398.00,259.29 L398.25,258.08 L398.50,260.85 L398.75,266.84 L399.00,274.53 L399.25,282.25 L399.50,277.69 L399.75,269.81 L400.00,262.94 L400.25,258.73 L400.50,258.33 L400.75,261.83 L401.00,268.30 L401.25,276.12 L401.50,283.68 L401.75,289.89 L402.00,294.32 L402.25,297.10 L402.50,298.66 L402.75,299.44 L403.00,299.79 L403.25,299.93 L403.50,299.98 L403.75,299.99 L404.00,300.00 L404.25,300.00 L404.50,300.00 L404.75,300.00 L405.00,300.00 L405.25,300.00 L405.50,300.00 L405.75,300.00 L406.00,300.00 L406.25,300.00 L406.50,300.00 L406.75,300.00 L407.00,300.00 L407.25,300.00 L407.50,300.00 L407.75,300.00 L408.00,300.00 L408.25,300.00 L408.50,300.00 L408.75,300.00 L409.00,300.00 L409.25,300.00 L409.50,300.00 L409.75,300.00 L410.00,300.00 L410.25,300.00 L410.50,300.00 L410.75,300.00 L411.00,300.00 L411.25,300.00 L411.50,300.00 L411.75,300.00 L412.00,300.00 L412.25,300.00 L412.50,300.00 L412.75,300.00 L413.00,300.00 L413.25,300.00 L413.50,300.00 L413.75,300.00 L414.00,300.00 L414.25,300.00 L414.50,300.00 L414.75,300.00 L415.00,300.00 L415.25,300.00 L415.50,300.00 L415.75,300.00 L416.00,300.00 L416.25,300.00 L416.50,300.00 L416.75,300.00 L417.00,300.00 L417.25,300.00 L417.50,300.00 L417.75,300.00 L418.00,300.00 L418.25,300.00 L418.50,300.00 L418.75,300.00 L419.00,300.00 L419.25,300.00 L419.50,300.00 L419.75,300.00 L420.00,300.00 L420.25,300.00 L420.50,300.00 L420.75,300.00 L421.00,300.00 L421.25,299.99 L421.50,299.98 L421.75,299.93 L422.00,299.81 L422.25,299.50 L422.50,298.80 L422.75,297.41 L423.00,294.91 L423.25,290.95 L423.50,285.39 L423.75,278.62 L424.00,271.62 L424.25,265.83 L424.50,262.69 L424.75,263.06 L425.00,266.82 L425.25,272.97 L425.50,280.03 L425.75,286.62 L426.00,291.87 L426.25,295.52 L426.50,294.61 L426.75,293.26 L427.00,292.34 L427.25,292.12 L427.50,292.64 L427.75,293.76 L428.00,293.27 L428.25,288.03 L428.50,280.69 L428.75,271.74 L429.00,262.48 L429.25,254.84 L429.50,250.69 L429.75,251.17 L430.00,256.14 L430.25,264.27 L430.50,273.60 L430.75,282.31 L431.00,289.25 L431.25,294.08 L431.50,297.04 L431.75,298.66 L432.00,299.45 L432.25,299.79 L432.50,299.93 L432.75,299.98 L433.00,299.99 L433.25,300.00 L433.50,300.00 L433.75,300.00 L434.00,300.00 L434.25,300.00 L434.50,300.00 L434.75,300.00 L435.00,300.00 L435.25,299.98 L435.50,299.95 L435.75,299.85 L436.00,299.61 L436.25,299.04 L436.50,297.89 L436.75,295.78 L437.00,292.34 L437.25,287.40 L437.50,281.20 L437.75,274.55 L438.00,268.76 L438.25,265.22 L438.50,264.88 L438.75,267.83 L439.00,273.28 L439.25,278.76 L439.50,265.73 L439.75,249.84 L440.00,233.42 L440.25,219.85 L440.50,212.49 L440.75,213.34 L441.00,222.16 L441.25,236.60 L441.50,253.16 L441.75,268.61 L442.00,280.93 L442.25,287.45 L442.50,282.68 L442.75,278.32 L443.00,275.38 L443.25,274.65 L443.50,276.32 L443.75,279.95 L444.00,284.59 L444.25,289.27 L444.50,293.22 L444.75,296.11 L445.00,297.98 L445.25,299.05 L445.50,299.59 L445.75,299.84 L446.00,299.77 L446.25,299.37 L446.50,298.44 L446.75,296.50 L447.00,292.86 L447.25,286.79 L447.50,277.83 L447.75,266.26 L448.00,253.42 L448.25,241.69 L448.50,233.80 L448.75,231.83 L449.00,236.34 L449.25,246.08 L449.50,258.57 L449.75,271.14 L450.00,281.76 L450.25,289.55 L450.50,294.57 L450.75,297.44 L451.00,298.90 L451.25,299.58 L451.50,299.85 L451.75,299.95 L452.00,299.99 L452.25,300.00 L452.50,299.99 L452.75,299.97 L453.00,299.90 L453.25,299.73 L453.50,299.29 L453.75,298.34 L454.00,296.48 L454.25,293.23 L454.50,288.20 L454.75,281.32 L455.00,273.19 L455.25,265.10 L455.50,258.80 L455.75,255.89 L456.00,257.16 L456.25,262.27 L456.50,269.86 L456.75,278.16 L457.00,285.65 L457.25,291.45 L457.50,295.38 L457.75,297.73 L458.00,298.99 L458.25,299.59 L458.50,299.85 L458.75,299.95 L459.00,299.99 L459.25,300.00 L459.50,300.00 L459.75,300.00 L460.00,300.00 L460.25,300.00 L460.50,300.00 L460.75,300.00 L461.00,300.00 L461.25,299.99 L461.50,299.98 L461.75,299.95 L462.00,299.89 L462.25,299.76 L462.50,299.53 L462.75,299.16 L463.00,298.64 L463.25,298.01 L463.50,297.36 L463.75,296.82 L464.00,296.53 L464.25,296.56 L464.50,296.91 L464.75,297.48 L465.00,298.14 L465.25,298.75 L465.50,299.24 L465.75,298.66 L466.00,297.04 L466.25,294.08 L466.50,289.25 L466.75,282.31 L467.00,273.60 L467.25,264.27 L467.50,256.14 L467.75,251.17 L468.00,250.69 L468.25,254.84 L468.50,262.48 L468.75,271.74 L469.00,280.69 L469.25,288.03 L469.50,293.27 L469.75,296.57 L470.00,298.41 L470.25,299.34 L470.50,299.75 L470.75,299.91 L471.00,299.96 L471.25,299.89 L471.50,299.68 L471.75,299.20 L472.00,298.15 L472.25,296.16 L472.50,292.76 L472.75,287.61 L473.00,280.77 L473.25,272.94 L473.50,265.45 L473.75,260.00 L474.00,258.00 L474.25,260.00 L474.50,265.45 L474.75,272.94 L475.00,280.77 L475.25,287.61 L475.50,281.54 L475.75,272.99 L476.00,264.15 L476.25,256.84 L476.50,252.87 L476.75,253.33 L477.00,258.08 L477.25,265.85 L477.50,274.77 L477.75,283.10 L478.00,289.73 L478.25,294.34 L478.50,297.17 L478.75,298.72 L479.00,299.47 L479.25,298.86 L479.50,297.68 L479.75,295.70 L480.00,292.79 L480.25,289.03 L480.50,284.86 L480.75,281.05 L481.00,278.48 L481.25,277.84 L481.50,279.31 L481.75,282.47 L482.00,286.54 L482.25,290.62 L482.50,294.07 L482.75,296.60 L483.00,298.23 L483.25,299.17 L483.50,299.64 L483.75,299.86 L484.00,299.95 L484.25,299.98 L484.50,299.98 L484.75,299.95 L485.00,299.84 L485.25,299.55 L485.50,298.88 L485.75,297.49 L486.00,294.88 L486.25,290.52 L486.50,284.09 L486.75,275.79 L487.00,266.58 L487.25,258.17 L487.50,252.51 L487.75,251.10 L488.00,254.33 L488.25,261.31 L488.50,270.28 L488.75,279.29 L489.00,286.91 L489.25,292.50 L489.50,296.10 L489.75,298.16 L490.00,299.21 L490.25,299.70 L490.50,299.89 L490.75,299.97 L491.00,299.99 L491.25,299.97 L491.50,299.92 L491.75,299.82 L492.00,299.63 L492.25,299.32 L492.50,298.86 L492.75,298.27 L493.00,297.61 L493.25,297.01 L493.50,296.61 L493.75,296.51 L494.00,296.74 L494.25,297.24 L494.50,297.88 L494.75,298.52 L495.00,299.07 L495.25,299.46 L495.50,299.72 L495.75,299.87 L496.00,299.94 L496.25,299.98 L496.50,299.99 L496.75,300.00 L497.00,300.00 L497.25,300.00 L497.50,300.00 L497.75,300.00 L498.00,299.99 L498.25,299.98 L498.50,299.93 L498.75,299.78 L499.00,299.42 L499.25,298.60 L499.50,296.91 L499.75,293.81 L500.00,288.78 L500.25,281.53 L500.50,272.44 L500.75,262.69 L501.00,254.20 L501.25,249.00 L501.50,248.50 L501.75,252.84 L502.00,260.82 L502.25,270.49 L502.50,279.83 L502.75,287.50 L503.00,291.13 L503.25,283.59 L503.50,272.47 L503.75,258.10 L504.00,242.17 L504.25,227.61 L504.50,217.81 L504.75,215.37 L505.00,220.96 L505.25,233.05 L505.50,248.57 L505.75,264.16 L506.00,277.35 L506.25,269.81 L506.50,262.94 L506.75,258.73 L507.00,258.33 L507.25,261.83 L507.50,268.30 L507.75,276.12 L508.00,283.68 L508.25,289.89 L508.50,294.32 L508.75,297.10 L509.00,298.66 L509.25,299.44 L509.50,299.79 L509.75,299.93 L510.00,299.83 L510.25,299.53 L510.50,298.78 L510.75,297.15 L511.00,293.95 L511.25,288.37 L511.50,279.70 L511.75,267.88 L512.00,253.90 L512.25,240.00 L512.50,229.16 L512.75,224.15 L513.00,226.34 L513.25,235.12 L513.50,248.17 L513.75,262.45 L514.00,275.33 L514.25,285.30 L514.50,292.05 L514.75,296.10 L515.00,298.27 L515.25,299.30 L515.50,298.83 L515.75,297.83 L516.00,296.36 L516.25,294.47 L516.50,292.36 L516.75,290.44 L517.00,289.14 L517.25,288.82 L517.50,289.56 L517.75,291.16 L518.00,293.21 L518.25,295.27 L518.50,297.01 L518.75,298.29 L519.00,299.11 L519.25,299.58 L519.50,299.82 L519.75,299.93 L520.00,299.98 L520.25,299.99 L520.50,300.00 L520.75,300.00 L521.00,300.00 L521.25,300.00 L521.50,300.00 L521.75,300.00 L522.00,300.00 L522.25,300.00 L522.50,300.00 L522.75,300.00 L523.00,300.00 L523.25,300.00 L523.50,300.00 L523.75,300.00 L524.00,300.00 L524.25,300.00 L524.50,300.00 L524.75,300.00 L525.00,300.00 L525.25,300.00 L525.50,300.00 L525.75,300.00 L526.00,300.00 L526.25,300.00 L526.50,300.00 L526.75,300.00 L527.00,300.00 L527.25,300.00 L527.50,299.99 L527.75,299.97 L528.00,299.93 L528.25,299.81 L528.50,299.54 L528.75,299.00 L529.00,298.04 L529.25,296.51 L529.50,294.37 L529.75,291.75 L530.00,289.05 L530.25,286.82 L530.50,285.61 L530.75,285.75 L531.00,287.20 L531.25,289.58 L531.50,292.30 L531.75,294.84 L532.00,296.86 L532.25,298.27 L532.50,299.14 L532.75,299.61 L533.00,299.84 L533.25,299.94 L533.50,299.98 L533.75,299.99 L534.00,300.00 L534.25,300.00 L534.50,300.00 L534.75,300.00 L535.00,300.00 L535.25,300.00 L535.50,300.00 L535.75,300.00 L536.00,300.00 L536.25,300.00 L536.50,300.00 L536.75,300.00 L537.00,300.00 L537.25,300.00 L537.50,300.00 L537.75,300.00 L538.00,300.00 L538.25,300.00 L538.50,300.00 L538.75,300.00 L539.00,300.00 L539.25,300.00 L539.50,300.00 L539.75,300.00 L540.00,300.00 L540.25,300.00 L540.50,300.00 L540.75,300.00 L541.00,300.00 L541.25,300.00 L541.50,300.00 L541.75,300.00 L542.00,300.00 L542.25,299.99 L542.50,299.97 L542.75,299.90 L543.00,299.75 L543.25,299.41 L543.50,298.76 L543.75,297.61 L544.00,295.83 L544.25,293.41 L544.50,290.54 L544.75,287.68 L545.00,285.46 L545.25,284.43 L545.50,284.88 L545.75,286.68 L546.00,289.36 L546.25,292.29 L546.50,294.94 L546.75,296.98 L547.00,298.37 L547.25,299.20 L547.50,299.64 L547.75,299.86 L548.00,299.90 L548.25,299.72 L548.50,299.27 L548.75,298.30 L549.00,296.40 L549.25,293.07 L549.50,287.90 L549.75,280.86 L550.00,272.52 L550.25,264.23 L550.50,257.78 L550.75,254.79 L551.00,256.09 L551.25,261.33 L551.50,269.11 L551.75,277.62 L552.00,285.29 L552.25,291.24 L552.50,295.26 L552.75,297.68 L553.00,298.97 L553.25,299.58 L553.50,299.85 L553.75,299.95 L554.00,299.98 L554.25,300.00 L554.50,299.99 L554.75,299.96 L555.00,299.89 L555.25,299.72 L555.50,299.33 L555.75,298.54 L556.00,297.14 L556.25,294.92 L556.50,291.80 L556.75,288.00 L557.00,284.07 L557.25,280.83 L557.50,279.06 L557.75,279.27 L558.00,281.38 L558.25,284.83 L558.50,288.79 L558.75,292.49 L559.00,295.44 L559.25,297.48 L559.50,298.74 L559.75,299.43 L560.00,299.20 L560.25,298.12 L560.50,296.01 L560.75,292.33 L561.00,286.62 L561.25,278.83 L561.50,269.61 L561.75,260.44 L562.00,253.30 L562.25,250.00 L562.50,251.44 L562.75,257.23 L563.00,265.83 L563.25,275.25 L563.50,283.73 L563.75,290.31 L564.00,294.76 L564.25,297.43 L564.50,298.86 L564.75,299.54 L565.00,299.83 L565.25,299.54 L565.50,298.87 L565.75,297.45 L566.00,294.80 L566.25,290.38 L566.50,283.86 L566.75,275.44 L567.00,266.11 L567.25,257.57 L567.50,251.83 L567.75,250.40 L568.00,253.67 L568.25,260.76 L568.50,269.86 L568.75,279.00 L569.00,286.73 L569.25,292.39 L569.50,296.05 L569.75,298.14 L570.00,299.20 L570.25,299.69 L570.50,299.89 L570.75,299.97 L571.00,299.99 L571.25,300.00 L571.50,299.99 L571.75,299.96 L572.00,299.89 L572.25,299.74 L572.50,299.46 L572.75,298.96 L573.00,298.18 L573.25,297.13 L573.50,295.88 L573.75,294.63 L574.00,293.66 L574.25,293.21 L574.50,293.41 L574.75,294.20 L575.00,295.36 L575.25,296.64 L575.50,297.79 L575.75,297.25 L576.00,294.39 L576.25,289.63 L576.50,282.60 L576.75,273.52 L577.00,263.45 L577.25,254.24 L577.50,248.05 L577.75,246.50 L578.00,250.04 L578.25,257.68 L578.50,267.49 L578.75,277.35 L579.00,285.69 L579.25,291.80 L579.50,295.74 L579.75,297.99 L580.00,299.14 L580.25,299.67 L580.50,299.88 L580.75,299.96 L581.00,299.99 L581.25,300.00 L581.50,300.00 L581.75,300.00 L582.00,300.00 L582.25,300.00 L582.50,300.00 L582.75,300.00 L583.00,300.00 L583.25,300.00 L583.50,300.00 L583.75,299.98 L584.00,299.95 L584.25,299.84 L584.50,299.56 L584.75,298.89 L585.00,297.46 L585.25,294.72 L585.50,290.03 L585.75,282.95 L586.00,273.54 L586.25,262.75 L586.50,252.46 L586.75,244.95 L587.00,242.20 L587.25,244.95 L587.50,252.46 L587.75,262.75 L588.00,273.54 L588.25,282.95 L588.50,290.03 L588.75,294.72 L589.00,297.46 L589.25,298.89 L589.50,298.00 L589.75,295.99 L590.00,292.73 L590.25,288.04 L590.50,282.16 L590.75,275.85 L591.00,270.35 L591.25,266.99 L591.50,266.66 L591.75,269.47 L592.00,274.64 L592.25,280.89 L592.50,286.94 L592.75,291.91 L593.00,295.45 L593.25,297.68 L593.50,298.93 L593.75,299.55 L594.00,299.83 L594.25,299.94 L594.50,299.98 L594.75,299.99 L595.00,300.00 L595.25,300.00 L595.50,300.00 L595.75,300.00 L596.00,300.00 L596.25,300.00 L596.50,300.00 L596.75,300.00 L597.00,299.99 L597.25,299.97 L597.50,299.91 L597.75,299.77 L598.00,299.42 L598.25,298.69 L598.50,297.33 L598.75,295.07 L599.00,291.72 L599.25,287.40 L599.50,282.61 L599.75,278.23 L600.00,275.28 L600.25,274.55 L600.50,276.23 L600.75,279.87 L601.00,284.53 L601.25,289.22 L601.50,293.19 L601.75,291.95 L602.00,290.12 L602.25,289.00 L602.50,288.89 L602.75,289.82 L603.00,291.55 L603.25,293.63 L603.50,295.65 L603.75,297.30 L604.00,295.61 L604.25,291.87 L604.50,286.36 L604.75,279.25 L605.00,271.36 L605.25,264.15 L605.50,259.29 L605.75,258.08 L606.00,260.85 L606.25,266.84 L606.50,274.53 L606.75,282.25 L607.00,288.78 L607.25,293.57 L607.50,296.66 L607.75,298.42 L608.00,299.33 L608.25,299.40 L608.50,298.62 L608.75,297.13 L609.00,294.59 L609.25,290.74 L609.50,285.62 L609.75,279.77 L610.00,274.17 L610.25,270.10 L610.50,268.60 L610.75,270.10 L611.00,274.17 L611.25,279.77 L611.50,285.62 L611.75,290.74 L612.00,294.59 L612.25,297.13 L612.50,298.62 L612.75,299.40 L613.00,299.76 L613.25,299.91 L613.50,299.97 L613.75,299.99 L614.00,300.00 L614.25,299.98 L614.50,299.95 L614.75,299.86 L615.00,299.63 L615.25,299.13 L615.50,298.15 L615.75,296.43 L616.00,293.78 L616.25,290.15 L616.50,285.87 L616.75,281.60 L617.00,278.28 L617.25,276.75 L617.50,277.42 L617.75,280.11 L618.00,284.11 L618.25,288.49 L618.50,292.44 L618.75,295.49 L619.00,297.56 L619.25,298.81 L619.50,299.47 L619.75,299.79 L620.00,299.92 L620.25,299.85 L620.50,299.64 L620.75,299.23 L621.00,298.48 L621.25,297.30 L621.50,295.65 L621.75,293.63 L622.00,291.55 L622.25,289.82 L622.50,288.89 L622.75,289.00 L623.00,290.12 L623.25,291.95 L623.50,294.05 L623.75,296.01 L624.00,297.58 L624.25,298.66 L624.50,299.33 L624.75,299.70 L625.00,299.77 L625.25,299.48 L625.50,298.93 L625.75,298.03 L626.00,296.69 L626.25,294.96 L626.50,293.04 L626.75,291.29 L627.00,290.11 L627.25,289.82 L627.50,290.49 L627.75,291.95 L628.00,293.81 L628.25,295.69 L628.50,297.28 L628.75,295.86 L629.00,292.19 L629.25,286.64 L629.50,279.26 L629.75,270.81 L630.00,262.74 L630.25,256.86 L630.50,254.70 L630.75,256.86 L631.00,262.74 L631.25,270.81 L631.50,279.26 L631.75,286.64 L632.00,292.19 L632.25,295.86 L632.50,291.59 L632.75,284.44 L633.00,273.90 L633.25,260.28 L633.50,245.17 L633.75,231.36 L634.00,222.07 L634.25,219.76 L634.50,225.06 L634.75,236.52 L635.00,251.23 L635.25,266.02 L635.50,278.53 L635.75,287.69 L636.00,293.60 L636.25,296.98 L636.50,298.71 L636.75,299.50 L637.00,299.82 L637.25,299.94 L637.50,299.98 L637.75,300.00 L638.00,300.00 L638.25,300.00 L638.50,300.00 L638.75,300.00 L639.00,300.00 L639.25,300.00 L639.50,300.00 L639.75,300.00 L640.00,300.00 L640.25,300.00 L640.50,300.00 L640.75,300.00 L641.00,300.00 L641.25,300.00 L641.50,300.00 L641.75,300.00 L642.00,300.00 L642.25,300.00 L642.50,300.00 L642.75,300.00 L643.00,300.00 L643.25,300.00 L643.50,300.00 L643.75,300.00 L644.00,299.99 L644.25,299.97 L644.50,299.90 L644.75,299.69 L645.00,299.17 L645.25,297.98 L645.50,295.54 L645.75,291.07 L646.00,283.80 L646.25,273.35 L646.50,260.22 L646.75,246.16 L647.00,233.90 L647.25,226.41 L647.50,225.68 L647.75,231.94 L648.00,243.46 L648.25,257.41 L648.50,270.90 L648.75,281.96 L649.00,289.86 L649.25,294.83 L649.50,297.61 L649.75,299.00 L650.00,299.62 L650.25,299.87 L650.50,299.96 L650.75,299.98 L651.00,299.94 L651.25,299.85 L651.50,299.64 L651.75,299.23 L652.00,298.48 L652.25,297.30 L652.50,295.65 L652.75,293.63 L653.00,291.55 L653.25,289.82 L653.50,288.89 L653.75,289.00 L654.00,290.12 L654.25,291.95 L654.50,294.05 L654.75,296.01 L655.00,297.58 L655.25,298.66 L655.50,299.33 L655.75,299.70 L656.00,299.88 L656.25,299.95 L656.50,299.98 L656.75,300.00 L657.00,300.00 L657.25,300.00 L657.50,300.00 L657.75,300.00 L658.00,300.00 L658.25,300.00 L658.50,300.00 L658.75,300.00 L659.00,300.00 L659.25,300.00 L659.50,300.00 L659.75,300.00 L660.00,300.00 L660.25,300.00 L660.50,300.00 L660.75,300.00 L661.00,300.00 L661.25,300.00 L661.50,300.00 L661.75,300.00 L662.00,300.00 L662.25,300.00 L662.50,299.99 L662.75,299.97 L663.00,299.91 L663.25,299.76 L663.50,299.46 L663.75,298.88 L664.00,297.88 L664.25,296.37 L664.50,294.37 L664.75,292.07 L665.00,289.88 L665.25,288.29 L665.50,287.70 L665.75,288.29 L666.00,289.88 L666.25,292.07 L666.50,294.37 L666.75,296.37 L667.00,297.88 L667.25,298.88 L667.50,299.46 L667.75,299.76 L668.00,299.80 L668.25,299.44 L668.50,298.55 L668.75,296.61 L669.00,292.82 L669.25,286.18 L669.50,275.89 L669.75,261.84 L670.00,245.23 L670.25,228.71 L670.50,215.83 L670.75,209.88 L671.00,212.48 L671.25,222.91 L671.50,238.42 L671.75,255.39 L672.00,270.68 L672.25,282.53 L672.50,290.56 L672.75,295.37 L673.00,297.94 L673.25,299.17 L673.50,299.70 L673.75,299.90 L674.00,299.97 L674.25,299.99 L674.50,300.00 L674.75,300.00 L675.00,300.00 L675.25,300.00 L675.50,300.00 L675.75,300.00 L676.00,300.00 L676.25,300.00 L676.50,300.00 L676.75,300.00 L677.00,300.00 L677.25,300.00 L677.50,300.00 L677.75,300.00 L678.00,300.00 L678.25,300.00 L678.50,300.00 L678.75,300.00 L679.00,300.00 L679.25,300.00 L679.50,300.00 L679.75,300.00 L680.00,299.99 L680.25,299.96 L680.50,299.88 L680.75,299.69 L681.00,299.26 L681.25,298.39 L681.50,296.85 L681.75,294.39 L682.00,290.95 L682.25,286.75 L682.50,282.41 L682.75,278.83 L683.00,276.88 L683.25,277.11 L683.50,279.44 L683.75,283.25 L684.00,287.63 L684.25,291.71 L684.50,294.96 L684.75,297.22 L685.00,298.61 L685.25,299.37 L685.50,299.74 L685.75,299.90 L686.00,299.97 L686.25,299.99 L686.50,300.00 L686.75,300.00 L687.00,300.00 L687.25,300.00 L687.50,300.00 L687.75,300.00 L688.00,300.00 L688.25,300.00 L688.50,300.00 L688.75,300.00 L689.00,300.00 L689.25,300.00 L689.50,300.00 L689.75,300.00 L690.00,300.00 L690.25,300.00 L690.50,300.00 L690.75,300.00 L691.00,300.00 L691.25,300.00 L691.50,300.00 L691.75,300.00 L692.00,300.00 L692.25,300.00 L692.50,300.00 L692.75,300.00 L693.00,300.00 L693.25,300.00 L693.50,300.00 L693.75,300.00 L694.00,299.99 L694.25,299.98 L694.50,299.93 L694.75,299.82 L695.00,299.54 L695.25,298.97 L695.50,297.91 L695.75,296.13 L696.00,293.51 L696.25,290.12 L696.50,286.36 L696.75,282.93 L697.00,280.62 L697.25,280.04 L697.50,281.36 L697.75,284.21 L698.00,287.87 L698.25,291.55 L698.50,294.66 L698.75,296.94 L699.00,298.41 L699.25,299.25 L699.50,299.68 L699.75,299.88 L700.00,299.96 L700.25,299.99 L700.50,300.00 L700.75,299.99 L701.00,299.97 L701.25,299.92 L701.50,299.80 L701.75,299.54 L702.00,299.02 L702.25,298.12 L702.50,296.72 L702.75,294.80 L703.00,292.54 L703.25,290.29 L703.50,288.54 L703.75,287.72 L704.00,288.08 L704.25,289.50 L704.50,291.61 L704.75,293.92 L705.00,296.01 L705.25,297.62 L705.50,298.71 L705.75,299.37 L706.00,299.72 L706.25,299.89 L706.50,299.96 L706.75,299.96 L707.00,299.90 L707.25,299.74 L707.50,299.41 L707.75,298.78 L708.00,297.69 L708.25,296.05 L708.50,293.87 L708.75,291.37 L709.00,288.98 L709.25,287.24 L709.50,286.60 L709.75,287.24 L710.00,288.98 L710.25,291.37 L710.50,293.87 L710.75,296.05 L711.00,297.69 L711.25,298.78 L711.50,299.41 L711.75,299.74 L712.00,299.90 L712.25,299.96 L712.50,299.99 L712.75,300.00 L713.00,300.00 L713.25,300.00 L713.50,300.00 L713.75,300.00 L714.00,300.00 L714.25,300.00 L714.50,299.99 L714.75,299.98 L715.00,299.94 L715.25,299.84 L715.50,299.61 L715.75,299.15 L716.00,298.34 L716.25,297.04 L716.50,295.22 L716.75,293.01 L717.00,290.72 L717.25,288.82 L717.50,287.80 L717.75,287.91 L718.00,289.15 L718.25,291.16 L718.50,293.47 L718.75,289.69 L719.00,285.20 L719.25,280.74 L719.50,277.26 L719.75,275.65 L720.00,276.35 L720.25,279.17 L720.50,283.36 L720.75,287.94 L721.00,290.84 L721.25,287.11 L721.50,283.55 L721.75,280.95 L722.00,280.00 L722.25,280.95 L722.50,283.55 L722.75,287.11 L723.00,290.84 L723.25,294.10 L723.50,296.55 L723.75,298.17 L724.00,299.12 L724.25,299.62 L724.50,299.85 L724.75,299.93 L725.00,299.82 L725.25,299.53 L725.50,298.93 L725.75,297.77 L726.00,295.79 L726.25,292.80 L726.50,288.83 L726.75,284.28 L727.00,279.93 L727.25,276.76 L727.50,275.60 L727.75,276.76 L728.00,279.93 L728.25,284.28 L728.50,288.83 L728.75,292.80 L729.00,295.79 L729.25,297.77 L729.50,298.93 L729.75,299.53 L730.00,299.82 L730.25,299.93 L730.50,299.98 L730.75,299.99 L731.00,300.00 L731.25,300.00 L731.50,300.00 L731.75,300.00 L732.00,299.98 L732.25,299.94 L732.50,299.83 L732.75,299.54 L733.00,298.87 L733.25,297.45 L733.50,294.80 L733.75,290.38 L734.00,283.86 L734.25,275.44 L734.50,266.11 L734.75,257.57 L735.00,251.83 L735.25,250.40 L735.50,253.67 L735.75,260.76 L736.00,269.86 L736.25,279.00 L736.50,286.73 L736.75,287.40 L737.00,281.20 L737.25,274.55 L737.50,268.76 L737.75,265.22 L738.00,264.88 L738.25,267.83 L738.50,273.28 L738.75,279.87 L739.00,286.25 L739.25,291.48 L739.50,295.21" fill="none" stroke="#2a2a2a" stroke-width="1" stroke-linejoin="round"/>

<!-- exon bars -->
<g filter="url(#sh)">
<rect x="121.6" y="300.8" width="297" height="19" rx="3" fill="#f9ba00"/>
<rect x="416" y="300.8" width="327" height="18.8" rx="3" fill="#cb0000"/>
</g>
<text x="269" y="318.3" style="font-size:19.5px;font-weight:bold;fill:#1e1000;text-anchor:middle">Exon 2</text>
<text x="579.5" y="318.2" style="font-size:19.5px;font-weight:bold;fill:#3c0000;text-anchor:middle">Exon 3</text>

<!-- connector lines -->
<line x1="191.6" y1="320" x2="191.6" y2="356" stroke="#1a1a1a" stroke-width="1.2" stroke-dasharray="1.6,0.9"/>
<line x1="319.2" y1="320" x2="331.5" y2="353" stroke="#222" stroke-width="1"/>
<line x1="476" y1="320" x2="482.5" y2="355" stroke="#1a1a1a" stroke-width="1.2" stroke-dasharray="1.6,0.9"/>
<line x1="682" y1="320" x2="655" y2="355" stroke="#222" stroke-width="1"/>

<!-- example groups -->
<text transform="translate(51,415) rotate(-90)" style="font-size:17.7px;fill:#111;text-anchor:middle">Example groups</text>
<text class="gl" x="64" y="370">A*01</text>
<text class="gl" x="64" y="387.7">A*02</text>
<text class="gl" x="64" y="405.4">A*32</text>
<text class="gl" x="64" y="423.1">C*01</text>
<text class="gl" x="64" y="440.8">C*08</text>
<text class="gl" x="64" y="458.5">B*07</text>
<text class="gl" x="64" y="476.2">B*15</text>

<rect x="166.00" y="356.80" width="10.25" height="53.35" fill="#e64a40"/>
<rect x="166.00" y="409.90" width="10.25" height="17.95" fill="#4486de"/>
<rect x="166.00" y="427.60" width="10.25" height="17.95" fill="#e64a40"/>
<rect x="166.00" y="445.30" width="10.25" height="17.95" fill="#4486de"/>
<rect x="166.00" y="463.00" width="10.25" height="17.95" fill="#e64a40"/>
<rect x="176.00" y="356.80" width="10.25" height="124.15" fill="#f2a646"/>
<rect x="186.00" y="356.80" width="10.25" height="17.95" fill="#f2a646"/>
<rect x="186.00" y="374.50" width="10.25" height="17.95" fill="#58e458"/>
<rect x="186.00" y="392.20" width="10.25" height="17.95" fill="#f2a646"/>
<rect x="186.00" y="409.90" width="10.25" height="71.05" fill="#58e458"/>
<rect x="196.00" y="356.80" width="10.25" height="124.15" fill="#e64a40"/>
<rect x="206.00" y="356.80" width="10.25" height="124.15" fill="#4486de"/>
<text transform="translate(171.00,370.90) scale(0.86,1.08)" fill="#880404" class="nt" stroke="#880404" stroke-width="0.45">G</text>
<text transform="translate(181.00,370.90) scale(0.86,1.08)" fill="#302000" class="nt" stroke="#302000" stroke-width="0.45">C</text>
<text transform="translate(191.00,370.90) scale(0.86,1.08)" fill="#302000" class="nt" stroke="#302000" stroke-width="0.45">C</text>
<text transform="translate(201.00,370.90) scale(0.86,1.08)" fill="#880404" class="nt" stroke="#880404" stroke-width="0.45">G</text>
<text transform="translate(211.00,370.90) scale(0.86,1.08)" fill="#041048" class="nt" stroke="#041048" stroke-width="0.45">T</text>
<text transform="translate(171.00,388.60) scale(0.86,1.08)" fill="#880404" class="nt" stroke="#880404" stroke-width="0.45">G</text>
<text transform="translate(181.00,388.60) scale(0.86,1.08)" fill="#302000" class="nt" stroke="#302000" stroke-width="0.45">C</text>
<text transform="translate(191.00,388.60) scale(0.86,1.08)" fill="#004a00" class="nt" stroke="#004a00" stroke-width="0.45">A</text>
<text transform="translate(201.00,388.60) scale(0.86,1.08)" fill="#880404" class="nt" stroke="#880404" stroke-width="0.45">G</text>
<text transform="translate(211.00,388.60) scale(0.86,1.08)" fill="#041048" class="nt" stroke="#041048" stroke-width="0.45">T</text>
<text transform="translate(171.00,406.30) scale(0.86,1.08)" fill="#880404" class="nt" stroke="#880404" stroke-width="0.45">G</text>
<text transform="translate(181.00,406.30) scale(0.86,1.08)" fill="#302000" class="nt" stroke="#302000" stroke-width="0.45">C</text>
<text transform="translate(191.00,406.30) scale(0.86,1.08)" fill="#302000" class="nt" stroke="#302000" stroke-width="0.45">C</text>
<text transform="translate(201.00,406.30) scale(0.86,1.08)" fill="#880404" class="nt" stroke="#880404" stroke-width="0.45">G</text>
<text transform="translate(211.00,406.30) scale(0.86,1.08)" fill="#041048" class="nt" stroke="#041048" stroke-width="0.45">T</text>
<text transform="translate(171.00,424.00) scale(0.86,1.08)" fill="#041048" class="nt" stroke="#041048" stroke-width="0.45">T</text>
<text transform="translate(181.00,424.00) scale(0.86,1.08)" fill="#302000" class="nt" stroke="#302000" stroke-width="0.45">C</text>
<text transform="translate(191.00,424.00) scale(0.86,1.08)" fill="#004a00" class="nt" stroke="#004a00" stroke-width="0.45">A</text>
<text transform="translate(201.00,424.00) scale(0.86,1.08)" fill="#880404" class="nt" stroke="#880404" stroke-width="0.45">G</text>
<text transform="translate(211.00,424.00) scale(0.86,1.08)" fill="#041048" class="nt" stroke="#041048" stroke-width="0.45">T</text>
<text transform="translate(171.00,441.70) scale(0.86,1.08)" fill="#880404" class="nt" stroke="#880404" stroke-width="0.45">G</text>
<text transform="translate(181.00,441.70) scale(0.86,1.08)" fill="#302000" class="nt" stroke="#302000" stroke-width="0.45">C</text>
<text transform="translate(191.00,441.70) scale(0.86,1.08)" fill="#004a00" class="nt" stroke="#004a00" stroke-width="0.45">A</text>
<text transform="translate(201.00,441.70) scale(0.86,1.08)" fill="#880404" class="nt" stroke="#880404" stroke-width="0.45">G</text>
<text transform="translate(211.00,441.70) scale(0.86,1.08)" fill="#041048" class="nt" stroke="#041048" stroke-width="0.45">T</text>
<text transform="translate(171.00,459.40) scale(0.86,1.08)" fill="#041048" class="nt" stroke="#041048" stroke-width="0.45">T</text>
<text transform="translate(181.00,459.40) scale(0.86,1.08)" fill="#302000" class="nt" stroke="#302000" stroke-width="0.45">C</text>
<text transform="translate(191.00,459.40) scale(0.86,1.08)" fill="#004a00" class="nt" stroke="#004a00" stroke-width="0.45">A</text>
<text transform="translate(201.00,459.40) scale(0.86,1.08)" fill="#880404" class="nt" stroke="#880404" stroke-width="0.45">G</text>
<text transform="translate(211.00,459.40) scale(0.86,1.08)" fill="#041048" class="nt" stroke="#041048" stroke-width="0.45">T</text>
<text transform="translate(171.00,477.10) scale(0.86,1.08)" fill="#880404" class="nt" stroke="#880404" stroke-width="0.45">G</text>
<text transform="translate(181.00,477.10) scale(0.86,1.08)" fill="#302000" class="nt" stroke="#302000" stroke-width="0.45">C</text>
<text transform="translate(191.00,477.10) scale(0.86,1.08)" fill="#004a00" class="nt" stroke="#004a00" stroke-width="0.45">A</text>
<text transform="translate(201.00,477.10) scale(0.86,1.08)" fill="#880404" class="nt" stroke="#880404" stroke-width="0.45">G</text>
<text transform="translate(211.00,477.10) scale(0.86,1.08)" fill="#041048" class="nt" stroke="#041048" stroke-width="0.45">T</text>
<rect x="310.00" y="356.80" width="10.25" height="71.05" fill="#e64a40"/>
<rect x="310.00" y="427.60" width="10.25" height="17.95" fill="#58e458"/>
<rect x="310.00" y="445.30" width="10.25" height="35.65" fill="#e64a40"/>
<rect x="320.00" y="356.80" width="10.25" height="124.15" fill="#58e458"/>
<rect x="330.00" y="356.80" width="10.25" height="17.95" fill="#58e458"/>
<rect x="330.00" y="374.50" width="10.25" height="106.45" fill="#e64a40"/>
<rect x="340.00" y="356.80" width="10.25" height="53.35" fill="#e64a40"/>
<rect x="340.00" y="409.90" width="10.25" height="53.35" fill="#58e458"/>
<rect x="340.00" y="463.00" width="10.25" height="17.95" fill="#e64a40"/>
<rect x="350.00" y="356.80" width="10.25" height="53.35" fill="#58e458"/>
<rect x="350.00" y="409.90" width="10.25" height="53.35" fill="#e64a40"/>
<rect x="350.00" y="463.00" width="10.25" height="17.95" fill="#58e458"/>
<text transform="translate(315.00,370.90) scale(0.86,1.08)" fill="#880404" class="nt" stroke="#880404" stroke-width="0.45">G</text>
<text transform="translate(325.00,370.90) scale(0.86,1.08)" fill="#004a00" class="nt" stroke="#004a00" stroke-width="0.45">A</text>
<text transform="translate(335.00,370.90) scale(0.86,1.08)" fill="#004a00" class="nt" stroke="#004a00" stroke-width="0.45">A</text>
<text transform="translate(345.00,370.90) scale(0.86,1.08)" fill="#880404" class="nt" stroke="#880404" stroke-width="0.45">G</text>
<text transform="translate(355.00,370.90) scale(0.86,1.08)" fill="#004a00" class="nt" stroke="#004a00" stroke-width="0.45">A</text>
<text transform="translate(315.00,388.60) scale(0.86,1.08)" fill="#880404" class="nt" stroke="#880404" stroke-width="0.45">G</text>
<text transform="translate(325.00,388.60) scale(0.86,1.08)" fill="#004a00" class="nt" stroke="#004a00" stroke-width="0.45">A</text>
<text transform="translate(335.00,388.60) scale(0.86,1.08)" fill="#880404" class="nt" stroke="#880404" stroke-width="0.45">G</text>
<text transform="translate(345.00,388.60) scale(0.86,1.08)" fill="#880404" class="nt" stroke="#880404" stroke-width="0.45">G</text>
<text transform="translate(355.00,388.60) scale(0.86,1.08)" fill="#004a00" class="nt" stroke="#004a00" stroke-width="0.45">A</text>
<text transform="translate(315.00,406.30) scale(0.86,1.08)" fill="#880404" class="nt" stroke="#880404" stroke-width="0.45">G</text>
<text transform="translate(325.00,406.30) scale(0.86,1.08)" fill="#004a00" class="nt" stroke="#004a00" stroke-width="0.45">A</text>
<text transform="translate(335.00,406.30) scale(0.86,1.08)" fill="#880404" class="nt" stroke="#880404" stroke-width="0.45">G</text>
<text transform="translate(345.00,406.30) scale(0.86,1.08)" fill="#880404" class="nt" stroke="#880404" stroke-width="0.45">G</text>
<text transform="translate(355.00,406.30) scale(0.86,1.08)" fill="#004a00" class="nt" stroke="#004a00" stroke-width="0.45">A</text>
<text transform="translate(315.00,424.00) scale(0.86,1.08)" fill="#880404" class="nt" stroke="#880404" stroke-width="0.45">G</text>
<text transform="translate(325.00,424.00) scale(0.86,1.08)" fill="#004a00" class="nt" stroke="#004a00" stroke-width="0.45">A</text>
<text transform="translate(335.00,424.00) scale(0.86,1.08)" fill="#880404" class="nt" stroke="#880404" stroke-width="0.45">G</text>
<text transform="translate(345.00,424.00) scale(0.86,1.08)" fill="#004a00" class="nt" stroke="#004a00" stroke-width="0.45">A</text>
<text transform="translate(355.00,424.00) scale(0.86,1.08)" fill="#880404" class="nt" stroke="#880404" stroke-width="0.45">G</text>
<text transform="translate(315.00,441.70) scale(0.86,1.08)" fill="#004a00" class="nt" stroke="#004a00" stroke-width="0.45">A</text>
<text transform="translate(325.00,441.70) scale(0.86,1.08)" fill="#004a00" class="nt" stroke="#004a00" stroke-width="0.45">A</text>
<text transform="translate(335.00,441.70) scale(0.86,1.08)" fill="#880404" class="nt" stroke="#880404" stroke-width="0.45">G</text>
<text transform="translate(345.00,441.70) scale(0.86,1.08)" fill="#004a00" class="nt" stroke="#004a00" stroke-width="0.45">A</text>
<text transform="translate(355.00,441.70) scale(0.86,1.08)" fill="#880404" class="nt" stroke="#880404" stroke-width="0.45">G</text>
<text transform="translate(315.00,459.40) scale(0.86,1.08)" fill="#880404" class="nt" stroke="#880404" stroke-width="0.45">G</text>
<text transform="translate(325.00,459.40) scale(0.86,1.08)" fill="#004a00" class="nt" stroke="#004a00" stroke-width="0.45">A</text>
<text transform="translate(335.00,459.40) scale(0.86,1.08)" fill="#880404" class="nt" stroke="#880404" stroke-width="0.45">G</text>
<text transform="translate(345.00,459.40) scale(0.86,1.08)" fill="#004a00" class="nt" stroke="#004a00" stroke-width="0.45">A</text>
<text transform="translate(355.00,459.40) scale(0.86,1.08)" fill="#880404" class="nt" stroke="#880404" stroke-width="0.45">G</text>
<text transform="translate(315.00,477.10) scale(0.86,1.08)" fill="#880404" class="nt" stroke="#880404" stroke-width="0.45">G</text>
<text transform="translate(325.00,477.10) scale(0.86,1.08)" fill="#004a00" class="nt" stroke="#004a00" stroke-width="0.45">A</text>
<text transform="translate(335.00,477.10) scale(0.86,1.08)" fill="#880404" class="nt" stroke="#880404" stroke-width="0.45">G</text>
<text transform="translate(345.00,477.10) scale(0.86,1.08)" fill="#880404" class="nt" stroke="#880404" stroke-width="0.45">G</text>
<text transform="translate(355.00,477.10) scale(0.86,1.08)" fill="#004a00" class="nt" stroke="#004a00" stroke-width="0.45">A</text>
<rect x="456.00" y="356.80" width="10.25" height="53.35" fill="#e64a40"/>
<rect x="456.00" y="409.90" width="10.25" height="17.95" fill="#4486de"/>
<rect x="456.00" y="427.60" width="10.25" height="53.35" fill="#58e458"/>
<rect x="466.00" y="356.80" width="10.25" height="53.35" fill="#58e458"/>
<rect x="466.00" y="409.90" width="10.25" height="71.05" fill="#e64a40"/>
<rect x="476.00" y="356.80" width="10.25" height="17.95" fill="#4486de"/>
<rect x="476.00" y="374.50" width="10.25" height="17.95" fill="#e64a40"/>
<rect x="476.00" y="392.20" width="10.25" height="17.95" fill="#4486de"/>
<rect x="476.00" y="409.90" width="10.25" height="35.65" fill="#e64a40"/>
<rect x="476.00" y="445.30" width="10.25" height="17.95" fill="#f2a646"/>
<rect x="476.00" y="463.00" width="10.25" height="17.95" fill="#e64a40"/>
<rect x="486.00" y="356.80" width="10.25" height="17.95" fill="#58e458"/>
<rect x="486.00" y="374.50" width="10.25" height="35.65" fill="#e64a40"/>
<rect x="486.00" y="409.90" width="10.25" height="71.05" fill="#58e458"/>
<rect x="496.00" y="356.80" width="10.25" height="53.35" fill="#58e458"/>
<rect x="496.00" y="409.90" width="10.25" height="71.05" fill="#4486de"/>
<text transform="translate(461.00,370.90) scale(0.86,1.08)" fill="#880404" class="nt" stroke="#880404" stroke-width="0.45">G</text>
<text transform="translate(471.00,370.90) scale(0.86,1.08)" fill="#004a00" class="nt" stroke="#004a00" stroke-width="0.45">A</text>
<text transform="translate(481.00,370.90) scale(0.86,1.08)" fill="#041048" class="nt" stroke="#041048" stroke-width="0.45">T</text>
<text transform="translate(491.00,370.90) scale(0.86,1.08)" fill="#004a00" class="nt" stroke="#004a00" stroke-width="0.45">A</text>
<text transform="translate(501.00,370.90) scale(0.86,1.08)" fill="#004a00" class="nt" stroke="#004a00" stroke-width="0.45">A</text>
<text transform="translate(461.00,388.60) scale(0.86,1.08)" fill="#880404" class="nt" stroke="#880404" stroke-width="0.45">G</text>
<text transform="translate(471.00,388.60) scale(0.86,1.08)" fill="#004a00" class="nt" stroke="#004a00" stroke-width="0.45">A</text>
<text transform="translate(481.00,388.60) scale(0.86,1.08)" fill="#880404" class="nt" stroke="#880404" stroke-width="0.45">G</text>
<text transform="translate(491.00,388.60) scale(0.86,1.08)" fill="#880404" class="nt" stroke="#880404" stroke-width="0.45">G</text>
<text transform="translate(501.00,388.60) scale(0.86,1.08)" fill="#004a00" class="nt" stroke="#004a00" stroke-width="0.45">A</text>
<text transform="translate(461.00,406.30) scale(0.86,1.08)" fill="#880404" class="nt" stroke="#880404" stroke-width="0.45">G</text>
<text transform="translate(471.00,406.30) scale(0.86,1.08)" fill="#004a00" class="nt" stroke="#004a00" stroke-width="0.45">A</text>
<text transform="translate(481.00,406.30) scale(0.86,1.08)" fill="#041048" class="nt" stroke="#041048" stroke-width="0.45">T</text>
<text transform="translate(491.00,406.30) scale(0.86,1.08)" fill="#880404" class="nt" stroke="#880404" stroke-width="0.45">G</text>
<text transform="translate(501.00,406.30) scale(0.86,1.08)" fill="#004a00" class="nt" stroke="#004a00" stroke-width="0.45">A</text>
<text transform="translate(461.00,424.00) scale(0.86,1.08)" fill="#041048" class="nt" stroke="#041048" stroke-width="0.45">T</text>
<text transform="translate(471.00,424.00) scale(0.86,1.08)" fill="#880404" class="nt" stroke="#880404" stroke-width="0.45">G</text>
<text transform="translate(481.00,424.00) scale(0.86,1.08)" fill="#880404" class="nt" stroke="#880404" stroke-width="0.45">G</text>
<text transform="translate(491.00,424.00) scale(0.86,1.08)" fill="#004a00" class="nt" stroke="#004a00" stroke-width="0.45">A</text>
<text transform="translate(501.00,424.00) scale(0.86,1.08)" fill="#041048" class="nt" stroke="#041048" stroke-width="0.45">T</text>
<text transform="translate(461.00,441.70) scale(0.86,1.08)" fill="#004a00" class="nt" stroke="#004a00" stroke-width="0.45">A</text>
<text transform="translate(471.00,441.70) scale(0.86,1.08)" fill="#880404" class="nt" stroke="#880404" stroke-width="0.45">G</text>
<text transform="translate(481.00,441.70) scale(0.86,1.08)" fill="#880404" class="nt" stroke="#880404" stroke-width="0.45">G</text>
<text transform="translate(491.00,441.70) scale(0.86,1.08)" fill="#004a00" class="nt" stroke="#004a00" stroke-width="0.45">A</text>
<text transform="translate(501.00,441.70) scale(0.86,1.08)" fill="#041048" class="nt" stroke="#041048" stroke-width="0.45">T</text>
<text transform="translate(461.00,459.40) scale(0.86,1.08)" fill="#004a00" class="nt" stroke="#004a00" stroke-width="0.45">A</text>
<text transform="translate(471.00,459.40) scale(0.86,1.08)" fill="#880404" class="nt" stroke="#880404" stroke-width="0.45">G</text>
<text transform="translate(481.00,459.40) scale(0.86,1.08)" fill="#302000" class="nt" stroke="#302000" stroke-width="0.45">C</text>
<text transform="translate(491.00,459.40) scale(0.86,1.08)" fill="#004a00" class="nt" stroke="#004a00" stroke-width="0.45">A</text>
<text transform="translate(501.00,459.40) scale(0.86,1.08)" fill="#041048" class="nt" stroke="#041048" stroke-width="0.45">T</text>
<text transform="translate(461.00,477.10) scale(0.86,1.08)" fill="#004a00" class="nt" stroke="#004a00" stroke-width="0.45">A</text>
<text transform="translate(471.00,477.10) scale(0.86,1.08)" fill="#880404" class="nt" stroke="#880404" stroke-width="0.45">G</text>
<text transform="translate(481.00,477.10) scale(0.86,1.08)" fill="#880404" class="nt" stroke="#880404" stroke-width="0.45">G</text>
<text transform="translate(491.00,477.10) scale(0.86,1.08)" fill="#004a00" class="nt" stroke="#004a00" stroke-width="0.45">A</text>
<text transform="translate(501.00,477.10) scale(0.86,1.08)" fill="#041048" class="nt" stroke="#041048" stroke-width="0.45">T</text>
<rect x="636.00" y="356.80" width="10.25" height="124.15" fill="#58e458"/>
<rect x="646.00" y="356.80" width="10.25" height="17.95" fill="#f2a646"/>
<rect x="646.00" y="374.50" width="10.25" height="106.45" fill="#e64a40"/>
<rect x="656.00" y="356.80" width="10.25" height="17.95" fill="#e64a40"/>
<rect x="656.00" y="374.50" width="10.25" height="106.45" fill="#4486de"/>
<rect x="666.00" y="356.80" width="10.25" height="124.15" fill="#e64a40"/>
<text transform="translate(641.00,370.90) scale(0.86,1.08)" fill="#004a00" class="nt" stroke="#004a00" stroke-width="0.45">A</text>
<text transform="translate(651.00,370.90) scale(0.86,1.08)" fill="#302000" class="nt" stroke="#302000" stroke-width="0.45">C</text>
<text transform="translate(661.00,370.90) scale(0.86,1.08)" fill="#880404" class="nt" stroke="#880404" stroke-width="0.45">G</text>
<text transform="translate(671.00,370.90) scale(0.86,1.08)" fill="#880404" class="nt" stroke="#880404" stroke-width="0.45">G</text>
<text transform="translate(641.00,388.60) scale(0.86,1.08)" fill="#004a00" class="nt" stroke="#004a00" stroke-width="0.45">A</text>
<text transform="translate(651.00,388.60) scale(0.86,1.08)" fill="#880404" class="nt" stroke="#880404" stroke-width="0.45">G</text>
<text transform="translate(661.00,388.60) scale(0.86,1.08)" fill="#041048" class="nt" stroke="#041048" stroke-width="0.45">T</text>
<text transform="translate(671.00,388.60) scale(0.86,1.08)" fill="#880404" class="nt" stroke="#880404" stroke-width="0.45">G</text>
<text transform="translate(641.00,406.30) scale(0.86,1.08)" fill="#004a00" class="nt" stroke="#004a00" stroke-width="0.45">A</text>
<text transform="translate(651.00,406.30) scale(0.86,1.08)" fill="#880404" class="nt" stroke="#880404" stroke-width="0.45">G</text>
<text transform="translate(661.00,406.30) scale(0.86,1.08)" fill="#041048" class="nt" stroke="#041048" stroke-width="0.45">T</text>
<text transform="translate(671.00,406.30) scale(0.86,1.08)" fill="#880404" class="nt" stroke="#880404" stroke-width="0.45">G</text>
<text transform="translate(641.00,424.00) scale(0.86,1.08)" fill="#004a00" class="nt" stroke="#004a00" stroke-width="0.45">A</text>
<text transform="translate(651.00,424.00) scale(0.86,1.08)" fill="#880404" class="nt" stroke="#880404" stroke-width="0.45">G</text>
<text transform="translate(661.00,424.00) scale(0.86,1.08)" fill="#041048" class="nt" stroke="#041048" stroke-width="0.45">T</text>
<text transform="translate(671.00,424.00) scale(0.86,1.08)" fill="#880404" class="nt" stroke="#880404" stroke-width="0.45">G</text>
<text transform="translate(641.00,441.70) scale(0.86,1.08)" fill="#004a00" class="nt" stroke="#004a00" stroke-width="0.45">A</text>
<text transform="translate(651.00,441.70) scale(0.86,1.08)" fill="#880404" class="nt" stroke="#880404" stroke-width="0.45">G</text>
<text transform="translate(661.00,441.70) scale(0.86,1.08)" fill="#041048" class="nt" stroke="#041048" stroke-width="0.45">T</text>
<text transform="translate(671.00,441.70) scale(0.86,1.08)" fill="#880404" class="nt" stroke="#880404" stroke-width="0.45">G</text>
<text transform="translate(641.00,459.40) scale(0.86,1.08)" fill="#004a00" class="nt" stroke="#004a00" stroke-width="0.45">A</text>
<text transform="translate(651.00,459.40) scale(0.86,1.08)" fill="#880404" class="nt" stroke="#880404" stroke-width="0.45">G</text>
<text transform="translate(661.00,459.40) scale(0.86,1.08)" fill="#041048" class="nt" stroke="#041048" stroke-width="0.45">T</text>
<text transform="translate(671.00,459.40) scale(0.86,1.08)" fill="#880404" class="nt" stroke="#880404" stroke-width="0.45">G</text>
<text transform="translate(641.00,477.10) scale(0.86,1.08)" fill="#004a00" class="nt" stroke="#004a00" stroke-width="0.45">A</text>
<text transform="translate(651.00,477.10) scale(0.86,1.08)" fill="#880404" class="nt" stroke="#880404" stroke-width="0.45">G</text>
<text transform="translate(661.00,477.10) scale(0.86,1.08)" fill="#041048" class="nt" stroke="#041048" stroke-width="0.45">T</text>
<text transform="translate(671.00,477.10) scale(0.86,1.08)" fill="#880404" class="nt" stroke="#880404" stroke-width="0.45">G</text>
<rect x="249.0" y="363.8" width="2" height="2" fill="#333"/>
<rect x="255.0" y="363.8" width="2" height="2" fill="#333"/>
<rect x="261.0" y="363.8" width="2" height="2" fill="#333"/>
<rect x="249.0" y="381.5" width="2" height="2" fill="#333"/>
<rect x="255.0" y="381.5" width="2" height="2" fill="#333"/>
<rect x="261.0" y="381.5" width="2" height="2" fill="#333"/>
<rect x="249.0" y="399.2" width="2" height="2" fill="#333"/>
<rect x="255.0" y="399.2" width="2" height="2" fill="#333"/>
<rect x="261.0" y="399.2" width="2" height="2" fill="#333"/>
<rect x="249.0" y="416.9" width="2" height="2" fill="#333"/>
<rect x="255.0" y="416.9" width="2" height="2" fill="#333"/>
<rect x="261.0" y="416.9" width="2" height="2" fill="#333"/>
<rect x="249.0" y="434.6" width="2" height="2" fill="#333"/>
<rect x="255.0" y="434.6" width="2" height="2" fill="#333"/>
<rect x="261.0" y="434.6" width="2" height="2" fill="#333"/>
<rect x="249.0" y="452.3" width="2" height="2" fill="#333"/>
<rect x="255.0" y="452.3" width="2" height="2" fill="#333"/>
<rect x="261.0" y="452.3" width="2" height="2" fill="#333"/>
<rect x="249.0" y="470.0" width="2" height="2" fill="#333"/>
<rect x="255.0" y="470.0" width="2" height="2" fill="#333"/>
<rect x="261.0" y="470.0" width="2" height="2" fill="#333"/>
<rect x="396.7" y="363.8" width="2" height="2" fill="#333"/>
<rect x="402.6" y="363.8" width="2" height="2" fill="#333"/>
<rect x="408.6" y="363.8" width="2" height="2" fill="#333"/>
<rect x="396.7" y="381.5" width="2" height="2" fill="#333"/>
<rect x="402.6" y="381.5" width="2" height="2" fill="#333"/>
<rect x="408.6" y="381.5" width="2" height="2" fill="#333"/>
<rect x="396.7" y="399.2" width="2" height="2" fill="#333"/>
<rect x="402.6" y="399.2" width="2" height="2" fill="#333"/>
<rect x="408.6" y="399.2" width="2" height="2" fill="#333"/>
<rect x="396.7" y="416.9" width="2" height="2" fill="#333"/>
<rect x="402.6" y="416.9" width="2" height="2" fill="#333"/>
<rect x="408.6" y="416.9" width="2" height="2" fill="#333"/>
<rect x="396.7" y="434.6" width="2" height="2" fill="#333"/>
<rect x="402.6" y="434.6" width="2" height="2" fill="#333"/>
<rect x="408.6" y="434.6" width="2" height="2" fill="#333"/>
<rect x="396.7" y="452.3" width="2" height="2" fill="#333"/>
<rect x="402.6" y="452.3" width="2" height="2" fill="#333"/>
<rect x="408.6" y="452.3" width="2" height="2" fill="#333"/>
<rect x="396.7" y="470.0" width="2" height="2" fill="#333"/>
<rect x="402.6" y="470.0" width="2" height="2" fill="#333"/>
<rect x="408.6" y="470.0" width="2" height="2" fill="#333"/>
<rect x="574.8" y="363.8" width="2" height="2" fill="#333"/>
<rect x="580.8" y="363.8" width="2" height="2" fill="#333"/>
<rect x="587.0" y="363.8" width="2" height="2" fill="#333"/>
<rect x="574.8" y="381.5" width="2" height="2" fill="#333"/>
<rect x="580.8" y="381.5" width="2" height="2" fill="#333"/>
<rect x="587.0" y="381.5" width="2" height="2" fill="#333"/>
<rect x="574.8" y="399.2" width="2" height="2" fill="#333"/>
<rect x="580.8" y="399.2" width="2" height="2" fill="#333"/>
<rect x="587.0" y="399.2" width="2" height="2" fill="#333"/>
<rect x="574.8" y="416.9" width="2" height="2" fill="#333"/>
<rect x="580.8" y="416.9" width="2" height="2" fill="#333"/>
<rect x="587.0" y="416.9" width="2" height="2" fill="#333"/>
<rect x="574.8" y="434.6" width="2" height="2" fill="#333"/>
<rect x="580.8" y="434.6" width="2" height="2" fill="#333"/>
<rect x="587.0" y="434.6" width="2" height="2" fill="#333"/>
<rect x="574.8" y="452.3" width="2" height="2" fill="#333"/>
<rect x="580.8" y="452.3" width="2" height="2" fill="#333"/>
<rect x="587.0" y="452.3" width="2" height="2" fill="#333"/>
<rect x="574.8" y="470.0" width="2" height="2" fill="#333"/>
<rect x="580.8" y="470.0" width="2" height="2" fill="#333"/>
<rect x="587.0" y="470.0" width="2" height="2" fill="#333"/>
</svg>
</body></html>
